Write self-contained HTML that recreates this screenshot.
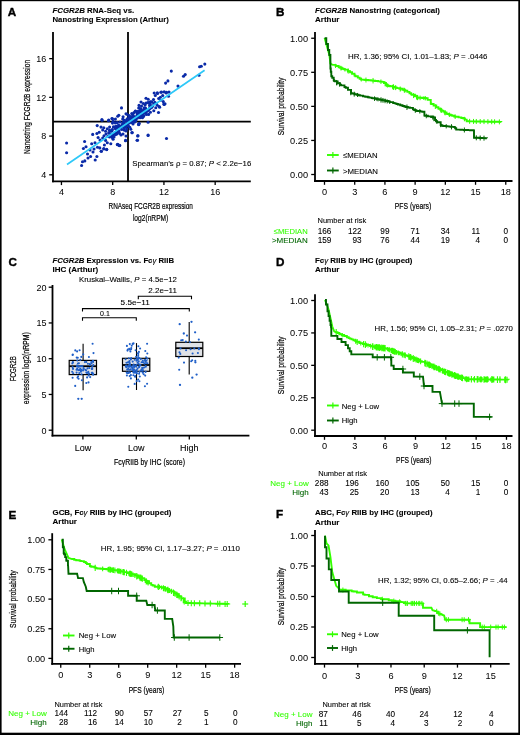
<!DOCTYPE html>
<html><head><meta charset="utf-8"><style>
html,body{margin:0;padding:0;background:#fff;}
body{width:520px;height:735px;overflow:hidden;position:relative;}
svg{position:absolute;left:0;top:0;font-family:"Liberation Sans", sans-serif;will-change:transform;}
</style></head><body>
<svg width="520" height="735" viewBox="0 0 520 735">
<g fill="#000"><rect x="0" y="0" width="520" height="1.2"/><rect x="0" y="0" width="1.6" height="735"/><rect x="518.3" y="0" width="1.7" height="735"/><rect x="0" y="732.7" width="520" height="2.3"/></g>
<text x="7.80" y="16.00" font-size="11.7" font-weight="bold" stroke="#000" stroke-width="0.4">A</text>
<text x="275.90" y="16.30" font-size="11.7" font-weight="bold" stroke="#000" stroke-width="0.4">B</text>
<text x="8.50" y="265.90" font-size="11.7" font-weight="bold" stroke="#000" stroke-width="0.4">C</text>
<text x="275.90" y="265.90" font-size="11.7" font-weight="bold" stroke="#000" stroke-width="0.4">D</text>
<text x="8.50" y="519.10" font-size="11.7" font-weight="bold" stroke="#000" stroke-width="0.4">E</text>
<text x="275.90" y="518.40" font-size="11.7" font-weight="bold" stroke="#000" stroke-width="0.4">F</text>
<text x="52.50" y="12.60" font-size="8" font-weight="bold" stroke="#000" stroke-width="0.1" textLength="81.70" lengthAdjust="spacingAndGlyphs"><tspan font-style="italic">FCGR2B</tspan> RNA-Seq vs.</text>
<text x="52.50" y="22.20" font-size="8" font-weight="bold" stroke="#000" stroke-width="0.1" textLength="116.30" lengthAdjust="spacingAndGlyphs">Nanostring Expression (Arthur)</text>
<text x="315.00" y="12.60" font-size="8" font-weight="bold" stroke="#000" stroke-width="0.1" textLength="125.00" lengthAdjust="spacingAndGlyphs"><tspan font-style="italic">FCGR2B</tspan> Nanostring (categorical)</text>
<text x="315.00" y="22.20" font-size="8" font-weight="bold" stroke="#000" stroke-width="0.1">Arthur</text>
<text x="52.50" y="262.80" font-size="8" font-weight="bold" stroke="#000" stroke-width="0.1" textLength="121.50" lengthAdjust="spacingAndGlyphs"><tspan font-style="italic">FCGR2B</tspan> Expression vs. Fc<tspan font-weight="normal" font-style="italic">γ</tspan> RIIB</text>
<text x="52.50" y="272.40" font-size="8" font-weight="bold" stroke="#000" stroke-width="0.1">IHC (Arthur)</text>
<text x="315.00" y="262.50" font-size="8" font-weight="bold" stroke="#000" stroke-width="0.1" textLength="97.50" lengthAdjust="spacingAndGlyphs">Fc<tspan font-weight="normal" font-style="italic">γ</tspan> RIIB by IHC (grouped)</text>
<text x="315.00" y="272.10" font-size="8" font-weight="bold" stroke="#000" stroke-width="0.1">Arthur</text>
<text x="52.50" y="514.50" font-size="8" font-weight="bold" stroke="#000" stroke-width="0.1" textLength="119.00" lengthAdjust="spacingAndGlyphs">GCB, Fc<tspan font-weight="normal" font-style="italic">γ</tspan> RIIB by IHC (grouped)</text>
<text x="52.50" y="524.10" font-size="8" font-weight="bold" stroke="#000" stroke-width="0.1">Arthur</text>
<text x="315.00" y="515.00" font-size="8" font-weight="bold" stroke="#000" stroke-width="0.1" textLength="117.50" lengthAdjust="spacingAndGlyphs">ABC, Fc<tspan font-weight="normal" font-style="italic">γ</tspan> RIIB by IHC (grouped)</text>
<text x="315.00" y="524.60" font-size="8" font-weight="bold" stroke="#000" stroke-width="0.1">Arthur</text>
<line x1="53.00" y1="32.00" x2="53.00" y2="182.20" stroke="#000" stroke-width="1.8" />
<line x1="52.10" y1="181.30" x2="250.80" y2="181.30" stroke="#000" stroke-width="1.8" />
<line x1="61.45" y1="181.30" x2="61.45" y2="185.10" stroke="#000" stroke-width="1.3" />
<text x="61.45" y="194.50" font-size="9.0" text-anchor="middle" stroke="#000" stroke-width="0.03">4</text>
<line x1="49.20" y1="174.80" x2="53.00" y2="174.80" stroke="#000" stroke-width="1.3" />
<text x="46.20" y="178.10" font-size="9.0" text-anchor="end" stroke="#000" stroke-width="0.03">4</text>
<line x1="112.69" y1="181.30" x2="112.69" y2="185.10" stroke="#000" stroke-width="1.3" />
<text x="112.69" y="194.50" font-size="9.0" text-anchor="middle" stroke="#000" stroke-width="0.03">8</text>
<line x1="49.20" y1="136.08" x2="53.00" y2="136.08" stroke="#000" stroke-width="1.3" />
<text x="46.20" y="139.38" font-size="9.0" text-anchor="end" stroke="#000" stroke-width="0.03">8</text>
<line x1="163.93" y1="181.30" x2="163.93" y2="185.10" stroke="#000" stroke-width="1.3" />
<text x="163.93" y="194.50" font-size="9.0" text-anchor="middle" stroke="#000" stroke-width="0.03">12</text>
<line x1="49.20" y1="97.36" x2="53.00" y2="97.36" stroke="#000" stroke-width="1.3" />
<text x="46.20" y="100.66" font-size="9.0" text-anchor="end" stroke="#000" stroke-width="0.03">12</text>
<line x1="215.17" y1="181.30" x2="215.17" y2="185.10" stroke="#000" stroke-width="1.3" />
<text x="215.17" y="194.50" font-size="9.0" text-anchor="middle" stroke="#000" stroke-width="0.03">16</text>
<line x1="49.20" y1="58.64" x2="53.00" y2="58.64" stroke="#000" stroke-width="1.3" />
<text x="46.20" y="61.94" font-size="9.0" text-anchor="end" stroke="#000" stroke-width="0.03">16</text>
<line x1="128.00" y1="32.00" x2="128.00" y2="181.30" stroke="#000" stroke-width="1.8" />
<line x1="53.00" y1="121.70" x2="250.80" y2="121.70" stroke="#000" stroke-width="1.8" />
<g fill="#0a2aa8"><circle cx="131.2" cy="121.1" r="1.55"/><circle cx="131.5" cy="117.6" r="1.55"/><circle cx="123.8" cy="123.3" r="1.55"/><circle cx="146.2" cy="110.5" r="1.55"/><circle cx="145.4" cy="110.3" r="1.55"/><circle cx="138.3" cy="114.9" r="1.55"/><circle cx="115.7" cy="133.1" r="1.55"/><circle cx="139.6" cy="115.3" r="1.55"/><circle cx="115.4" cy="122.9" r="1.55"/><circle cx="124.2" cy="122.0" r="1.55"/><circle cx="137.4" cy="114.6" r="1.55"/><circle cx="139.7" cy="110.6" r="1.55"/><circle cx="137.4" cy="116.4" r="1.55"/><circle cx="126.7" cy="129.0" r="1.55"/><circle cx="140.1" cy="117.7" r="1.55"/><circle cx="127.2" cy="118.8" r="1.55"/><circle cx="130.2" cy="119.3" r="1.55"/><circle cx="141.0" cy="113.4" r="1.55"/><circle cx="129.1" cy="116.7" r="1.55"/><circle cx="128.3" cy="125.9" r="1.55"/><circle cx="125.1" cy="124.2" r="1.55"/><circle cx="138.7" cy="108.0" r="1.55"/><circle cx="134.5" cy="122.0" r="1.55"/><circle cx="111.8" cy="131.0" r="1.55"/><circle cx="132.8" cy="114.7" r="1.55"/><circle cx="139.5" cy="113.1" r="1.55"/><circle cx="117.9" cy="131.5" r="1.55"/><circle cx="141.4" cy="115.9" r="1.55"/><circle cx="149.8" cy="107.7" r="1.55"/><circle cx="135.3" cy="111.0" r="1.55"/><circle cx="140.8" cy="110.1" r="1.55"/><circle cx="129.0" cy="115.5" r="1.55"/><circle cx="123.4" cy="122.3" r="1.55"/><circle cx="148.2" cy="99.3" r="1.55"/><circle cx="118.0" cy="129.1" r="1.55"/><circle cx="149.9" cy="108.6" r="1.55"/><circle cx="113.1" cy="121.4" r="1.55"/><circle cx="137.9" cy="111.5" r="1.55"/><circle cx="121.7" cy="129.5" r="1.55"/><circle cx="146.1" cy="109.5" r="1.55"/><circle cx="136.7" cy="117.0" r="1.55"/><circle cx="151.5" cy="107.6" r="1.55"/><circle cx="139.7" cy="115.4" r="1.55"/><circle cx="116.7" cy="134.1" r="1.55"/><circle cx="144.5" cy="112.1" r="1.55"/><circle cx="112.3" cy="129.5" r="1.55"/><circle cx="143.3" cy="103.5" r="1.55"/><circle cx="132.0" cy="122.6" r="1.55"/><circle cx="119.6" cy="133.4" r="1.55"/><circle cx="140.1" cy="112.4" r="1.55"/><circle cx="137.6" cy="117.3" r="1.55"/><circle cx="135.3" cy="120.8" r="1.55"/><circle cx="126.7" cy="120.5" r="1.55"/><circle cx="145.5" cy="109.4" r="1.55"/><circle cx="124.3" cy="127.5" r="1.55"/><circle cx="150.1" cy="104.3" r="1.55"/><circle cx="118.8" cy="127.0" r="1.55"/><circle cx="132.4" cy="117.1" r="1.55"/><circle cx="149.5" cy="102.4" r="1.55"/><circle cx="147.9" cy="102.6" r="1.55"/><circle cx="125.3" cy="125.6" r="1.55"/><circle cx="146.4" cy="112.1" r="1.55"/><circle cx="137.8" cy="115.1" r="1.55"/><circle cx="135.7" cy="118.3" r="1.55"/><circle cx="132.1" cy="119.6" r="1.55"/><circle cx="140.3" cy="112.8" r="1.55"/><circle cx="142.4" cy="113.6" r="1.55"/><circle cx="156.1" cy="103.3" r="1.55"/><circle cx="129.3" cy="118.9" r="1.55"/><circle cx="133.9" cy="120.9" r="1.55"/><circle cx="130.3" cy="121.2" r="1.55"/><circle cx="154.2" cy="93.0" r="1.55"/><circle cx="121.6" cy="126.6" r="1.55"/><circle cx="138.4" cy="115.1" r="1.55"/><circle cx="129.3" cy="123.0" r="1.55"/><circle cx="137.1" cy="112.9" r="1.55"/><circle cx="160.7" cy="100.3" r="1.55"/><circle cx="127.9" cy="120.9" r="1.55"/><circle cx="131.5" cy="118.6" r="1.55"/><circle cx="104.0" cy="135.7" r="1.55"/><circle cx="145.1" cy="104.9" r="1.55"/><circle cx="133.3" cy="121.4" r="1.55"/><circle cx="143.4" cy="116.6" r="1.55"/><circle cx="115.3" cy="128.5" r="1.55"/><circle cx="130.2" cy="122.2" r="1.55"/><circle cx="146.0" cy="98.2" r="1.55"/><circle cx="146.0" cy="103.1" r="1.55"/><circle cx="141.5" cy="106.0" r="1.55"/><circle cx="135.9" cy="120.6" r="1.55"/><circle cx="132.4" cy="119.0" r="1.55"/><circle cx="142.8" cy="111.7" r="1.55"/><circle cx="133.0" cy="123.9" r="1.55"/><circle cx="145.5" cy="108.1" r="1.55"/><circle cx="164.2" cy="91.9" r="1.55"/><circle cx="144.1" cy="109.2" r="1.55"/><circle cx="135.5" cy="119.0" r="1.55"/><circle cx="136.4" cy="118.0" r="1.55"/><circle cx="117.2" cy="122.6" r="1.55"/><circle cx="140.8" cy="108.6" r="1.55"/><circle cx="122.7" cy="119.0" r="1.55"/><circle cx="147.9" cy="110.6" r="1.55"/><circle cx="150.2" cy="102.3" r="1.55"/><circle cx="134.0" cy="112.6" r="1.55"/><circle cx="142.4" cy="117.7" r="1.55"/><circle cx="124.2" cy="130.1" r="1.55"/><circle cx="144.9" cy="109.0" r="1.55"/><circle cx="112.3" cy="137.6" r="1.55"/><circle cx="132.9" cy="115.4" r="1.55"/><circle cx="138.4" cy="115.8" r="1.55"/><circle cx="150.5" cy="101.8" r="1.55"/><circle cx="146.5" cy="114.5" r="1.55"/><circle cx="150.0" cy="105.5" r="1.55"/><circle cx="125.8" cy="126.8" r="1.55"/><circle cx="135.3" cy="116.8" r="1.55"/><circle cx="149.7" cy="105.4" r="1.55"/><circle cx="108.7" cy="132.9" r="1.55"/><circle cx="113.6" cy="134.4" r="1.55"/><circle cx="137.5" cy="112.3" r="1.55"/><circle cx="133.9" cy="120.5" r="1.55"/><circle cx="134.9" cy="121.8" r="1.55"/><circle cx="133.3" cy="121.8" r="1.55"/><circle cx="150.4" cy="112.3" r="1.55"/><circle cx="126.6" cy="125.7" r="1.55"/><circle cx="113.4" cy="126.9" r="1.55"/><circle cx="112.4" cy="136.2" r="1.55"/><circle cx="120.4" cy="126.4" r="1.55"/><circle cx="131.9" cy="118.5" r="1.55"/><circle cx="127.5" cy="122.5" r="1.55"/><circle cx="153.7" cy="103.8" r="1.55"/><circle cx="139.8" cy="117.1" r="1.55"/><circle cx="131.8" cy="113.6" r="1.55"/><circle cx="127.9" cy="125.6" r="1.55"/><circle cx="115.9" cy="127.1" r="1.55"/><circle cx="145.1" cy="112.7" r="1.55"/><circle cx="134.1" cy="120.3" r="1.55"/><circle cx="135.8" cy="111.2" r="1.55"/><circle cx="116.8" cy="126.4" r="1.55"/><circle cx="144.2" cy="107.9" r="1.55"/><circle cx="124.1" cy="120.8" r="1.55"/><circle cx="117.2" cy="128.2" r="1.55"/><circle cx="121.0" cy="127.5" r="1.55"/><circle cx="108.0" cy="136.2" r="1.55"/><circle cx="126.9" cy="114.2" r="1.55"/><circle cx="142.0" cy="110.6" r="1.55"/><circle cx="109.5" cy="130.4" r="1.55"/><circle cx="137.2" cy="113.1" r="1.55"/><circle cx="142.6" cy="114.2" r="1.55"/><circle cx="141.3" cy="113.4" r="1.55"/><circle cx="148.7" cy="109.7" r="1.55"/><circle cx="139.0" cy="105.4" r="1.55"/><circle cx="143.9" cy="115.6" r="1.55"/><circle cx="130.7" cy="117.5" r="1.55"/><circle cx="155.3" cy="95.5" r="1.55"/><circle cx="139.2" cy="123.3" r="1.55"/><circle cx="123.8" cy="126.9" r="1.55"/><circle cx="154.8" cy="102.4" r="1.55"/><circle cx="140.2" cy="116.5" r="1.55"/><circle cx="124.0" cy="123.6" r="1.55"/><circle cx="137.2" cy="118.2" r="1.55"/><circle cx="133.6" cy="116.6" r="1.55"/><circle cx="122.8" cy="123.3" r="1.55"/><circle cx="143.8" cy="110.8" r="1.55"/><circle cx="124.6" cy="120.2" r="1.55"/><circle cx="163.3" cy="101.6" r="1.55"/><circle cx="141.0" cy="102.0" r="1.55"/><circle cx="140.8" cy="114.4" r="1.55"/><circle cx="152.5" cy="106.2" r="1.55"/><circle cx="133.3" cy="119.7" r="1.55"/><circle cx="112.6" cy="135.9" r="1.55"/><circle cx="137.6" cy="111.9" r="1.55"/><circle cx="148.6" cy="114.4" r="1.55"/><circle cx="118.6" cy="125.0" r="1.55"/><circle cx="137.2" cy="115.7" r="1.55"/><circle cx="129.6" cy="116.2" r="1.55"/><circle cx="157.3" cy="105.3" r="1.55"/><circle cx="66.6" cy="143.0" r="1.55"/><circle cx="66.6" cy="152.8" r="1.55"/><circle cx="81.6" cy="165.5" r="1.55"/><circle cx="82.5" cy="161.7" r="1.55"/><circle cx="84.8" cy="160.9" r="1.55"/><circle cx="84.6" cy="141.5" r="1.55"/><circle cx="83.4" cy="148.5" r="1.55"/><circle cx="86.0" cy="146.7" r="1.55"/><circle cx="87.5" cy="154.0" r="1.55"/><circle cx="90.6" cy="156.5" r="1.55"/><circle cx="91.7" cy="143.8" r="1.55"/><circle cx="92.7" cy="134.4" r="1.55"/><circle cx="95.2" cy="160.0" r="1.55"/><circle cx="96.9" cy="156.5" r="1.55"/><circle cx="95.0" cy="142.7" r="1.55"/><circle cx="97.2" cy="125.6" r="1.55"/><circle cx="98.1" cy="137.5" r="1.55"/><circle cx="97.5" cy="147.3" r="1.55"/><circle cx="99.8" cy="147.9" r="1.55"/><circle cx="101.2" cy="151.3" r="1.55"/><circle cx="103.8" cy="149.0" r="1.55"/><circle cx="106.7" cy="149.6" r="1.55"/><circle cx="102.1" cy="120.2" r="1.55"/><circle cx="96.9" cy="133.5" r="1.55"/><circle cx="99.2" cy="132.3" r="1.55"/><circle cx="101.0" cy="127.1" r="1.55"/><circle cx="102.7" cy="130.0" r="1.55"/><circle cx="103.8" cy="127.7" r="1.55"/><circle cx="105.6" cy="131.2" r="1.55"/><circle cx="107.3" cy="128.8" r="1.55"/><circle cx="109.6" cy="127.1" r="1.55"/><circle cx="110.8" cy="131.2" r="1.55"/><circle cx="108.5" cy="120.8" r="1.55"/><circle cx="111.9" cy="118.5" r="1.55"/><circle cx="112.5" cy="123.1" r="1.55"/><circle cx="115.4" cy="126.5" r="1.55"/><circle cx="117.7" cy="116.2" r="1.55"/><circle cx="102.7" cy="138.0" r="1.55"/><circle cx="105.6" cy="140.4" r="1.55"/><circle cx="107.3" cy="142.7" r="1.55"/><circle cx="109.6" cy="136.9" r="1.55"/><circle cx="110.8" cy="143.8" r="1.55"/><circle cx="113.1" cy="139.2" r="1.55"/><circle cx="115.4" cy="134.6" r="1.55"/><circle cx="117.7" cy="144.4" r="1.55"/><circle cx="117.7" cy="132.3" r="1.55"/><circle cx="104.4" cy="145.0" r="1.55"/><circle cx="121.5" cy="107.9" r="1.55"/><circle cx="137.7" cy="135.9" r="1.55"/><circle cx="137.1" cy="140.2" r="1.55"/><circle cx="148.1" cy="135.0" r="1.55"/><circle cx="166.5" cy="138.5" r="1.55"/><circle cx="131.9" cy="132.7" r="1.55"/><circle cx="118.1" cy="144.8" r="1.55"/><circle cx="119.8" cy="145.4" r="1.55"/><circle cx="125.6" cy="140.2" r="1.55"/><circle cx="164.2" cy="104.4" r="1.55"/><circle cx="158.5" cy="112.5" r="1.55"/><circle cx="159.6" cy="107.3" r="1.55"/><circle cx="157.3" cy="92.9" r="1.55"/><circle cx="160.8" cy="92.3" r="1.55"/><circle cx="166.5" cy="92.3" r="1.55"/><circle cx="153.8" cy="110.8" r="1.55"/><circle cx="138.8" cy="124.6" r="1.55"/><circle cx="148.1" cy="122.3" r="1.55"/><circle cx="171.3" cy="71.1" r="1.55"/><circle cx="165.6" cy="83.1" r="1.55"/><circle cx="167.9" cy="80.9" r="1.55"/><circle cx="183.5" cy="76.3" r="1.55"/><circle cx="185.2" cy="74.6" r="1.55"/><circle cx="178.0" cy="86.1" r="1.55"/><circle cx="199.6" cy="66.7" r="1.55"/><circle cx="201.3" cy="66.2" r="1.55"/><circle cx="204.8" cy="64.1" r="1.55"/><circle cx="199.0" cy="75.2" r="1.55"/><circle cx="157.5" cy="93.5" r="1.55"/><circle cx="161.5" cy="92.1" r="1.55"/><circle cx="166.2" cy="92.9" r="1.55"/><circle cx="169.0" cy="92.1" r="1.55"/><circle cx="168.5" cy="96.2" r="1.55"/><circle cx="162.7" cy="95.6" r="1.55"/><circle cx="160.4" cy="97.3" r="1.55"/><circle cx="163.8" cy="104.0" r="1.55"/><circle cx="165.0" cy="103.7" r="1.55"/><circle cx="159.2" cy="106.5" r="1.55"/><circle cx="153.5" cy="99.6" r="1.55"/><circle cx="151.7" cy="101.9" r="1.55"/><circle cx="158.7" cy="98.5" r="1.55"/><circle cx="155.8" cy="107.7" r="1.55"/><circle cx="132.2" cy="132.6" r="1.55"/><circle cx="138.0" cy="135.8" r="1.55"/><circle cx="137.5" cy="140.3" r="1.55"/><circle cx="148.1" cy="135.5" r="1.55"/><circle cx="138.5" cy="124.4" r="1.55"/><circle cx="130.8" cy="129.2" r="1.55"/><circle cx="129.8" cy="127.3" r="1.55"/><circle cx="117.3" cy="144.6" r="1.55"/><circle cx="119.2" cy="145.6" r="1.55"/><circle cx="106.7" cy="149.4" r="1.55"/><circle cx="101.4" cy="151.3" r="1.55"/><circle cx="103.8" cy="148.5" r="1.55"/><circle cx="125.5" cy="140.8" r="1.55"/><circle cx="101.9" cy="119.6" r="1.55"/><circle cx="108.7" cy="120.1" r="1.55"/><circle cx="112.5" cy="118.7" r="1.55"/><circle cx="115.4" cy="119.1" r="1.55"/><circle cx="118.8" cy="115.3" r="1.55"/><circle cx="123.1" cy="116.7" r="1.55"/><circle cx="126.0" cy="113.8" r="1.55"/><circle cx="120.0" cy="122.0" r="1.55"/><circle cx="122.0" cy="125.0" r="1.55"/><circle cx="124.0" cy="128.0" r="1.55"/><circle cx="126.0" cy="131.0" r="1.55"/><circle cx="121.0" cy="135.0" r="1.55"/><circle cx="114.0" cy="137.0" r="1.55"/><circle cx="112.0" cy="130.0" r="1.55"/><circle cx="116.0" cy="129.0" r="1.55"/><circle cx="119.0" cy="131.0" r="1.55"/><circle cx="123.0" cy="134.0" r="1.55"/><circle cx="126.0" cy="136.0" r="1.55"/><circle cx="110.0" cy="134.0" r="1.55"/><circle cx="106.0" cy="134.0" r="1.55"/><circle cx="100.0" cy="140.0" r="1.55"/><circle cx="94.0" cy="149.0" r="1.55"/><circle cx="90.0" cy="150.0" r="1.55"/><circle cx="88.0" cy="158.0" r="1.55"/><circle cx="93.0" cy="152.0" r="1.55"/></g>
<line x1="67.00" y1="164.50" x2="204.60" y2="70.30" stroke="#2ec8f8" stroke-width="1.7" />
<text x="132.30" y="165.50" font-size="7.8" stroke="#000" stroke-width="0.1" textLength="119.00" lengthAdjust="spacingAndGlyphs">Spearman’s ρ = 0.87; <tspan font-style="italic">P</tspan> &lt; 2.2e−16</text>
<text x="150.75" y="209.40" font-size="9.9" text-anchor="middle" stroke="#000" stroke-width="0.22" textLength="84.30" lengthAdjust="spacingAndGlyphs">RNAseq FCGR2B expression</text>
<text x="150.60" y="221.00" font-size="9.9" text-anchor="middle" stroke="#000" stroke-width="0.22" textLength="35.40" lengthAdjust="spacingAndGlyphs">log2(nRPM)</text>
<text x="0.00" y="0.00" font-size="9.9" text-anchor="middle" stroke="#000" stroke-width="0.22" textLength="94.00" lengthAdjust="spacingAndGlyphs" transform="translate(29.7,106.9) rotate(-90)">Nanostring FCGR2B expression</text>
<line x1="315.00" y1="32.00" x2="315.00" y2="181.90" stroke="#000" stroke-width="1.8" />
<line x1="314.10" y1="181.00" x2="512.50" y2="181.00" stroke="#000" stroke-width="1.8" />
<line x1="311.20" y1="174.50" x2="315.00" y2="174.50" stroke="#000" stroke-width="1.3" />
<text x="308.00" y="177.80" font-size="9.2" text-anchor="end" stroke="#000" stroke-width="0.03">0.00</text>
<line x1="311.20" y1="140.44" x2="315.00" y2="140.44" stroke="#000" stroke-width="1.3" />
<text x="308.00" y="143.74" font-size="9.2" text-anchor="end" stroke="#000" stroke-width="0.03">0.25</text>
<line x1="311.20" y1="106.38" x2="315.00" y2="106.38" stroke="#000" stroke-width="1.3" />
<text x="308.00" y="109.67" font-size="9.2" text-anchor="end" stroke="#000" stroke-width="0.03">0.50</text>
<line x1="311.20" y1="72.31" x2="315.00" y2="72.31" stroke="#000" stroke-width="1.3" />
<text x="308.00" y="75.61" font-size="9.2" text-anchor="end" stroke="#000" stroke-width="0.03">0.75</text>
<line x1="311.20" y1="38.25" x2="315.00" y2="38.25" stroke="#000" stroke-width="1.3" />
<text x="308.00" y="41.55" font-size="9.2" text-anchor="end" stroke="#000" stroke-width="0.03">1.00</text>
<line x1="324.50" y1="181.00" x2="324.50" y2="184.80" stroke="#000" stroke-width="1.3" />
<text x="324.50" y="194.80" font-size="9.2" text-anchor="middle" stroke="#000" stroke-width="0.03">0</text>
<line x1="354.71" y1="181.00" x2="354.71" y2="184.80" stroke="#000" stroke-width="1.3" />
<text x="354.71" y="194.80" font-size="9.2" text-anchor="middle" stroke="#000" stroke-width="0.03">3</text>
<line x1="384.92" y1="181.00" x2="384.92" y2="184.80" stroke="#000" stroke-width="1.3" />
<text x="384.92" y="194.80" font-size="9.2" text-anchor="middle" stroke="#000" stroke-width="0.03">6</text>
<line x1="415.13" y1="181.00" x2="415.13" y2="184.80" stroke="#000" stroke-width="1.3" />
<text x="415.13" y="194.80" font-size="9.2" text-anchor="middle" stroke="#000" stroke-width="0.03">9</text>
<line x1="445.34" y1="181.00" x2="445.34" y2="184.80" stroke="#000" stroke-width="1.3" />
<text x="445.34" y="194.80" font-size="9.2" text-anchor="middle" stroke="#000" stroke-width="0.03">12</text>
<line x1="475.55" y1="181.00" x2="475.55" y2="184.80" stroke="#000" stroke-width="1.3" />
<text x="475.55" y="194.80" font-size="9.2" text-anchor="middle" stroke="#000" stroke-width="0.03">15</text>
<line x1="505.76" y1="181.00" x2="505.76" y2="184.80" stroke="#000" stroke-width="1.3" />
<text x="505.76" y="194.80" font-size="9.2" text-anchor="middle" stroke="#000" stroke-width="0.03">18</text>
<text x="0.00" y="0.00" font-size="9.9" text-anchor="middle" stroke="#000" stroke-width="0.22" textLength="57.70" lengthAdjust="spacingAndGlyphs" transform="translate(283.6,106.38) rotate(-90)">Survival probability</text>
<text x="413.00" y="208.50" font-size="9.9" text-anchor="middle" stroke="#000" stroke-width="0.22" textLength="36.40" lengthAdjust="spacingAndGlyphs">PFS (years)</text>
<text x="348.00" y="58.75" font-size="8" stroke="#000" stroke-width="0.1" textLength="139.50" lengthAdjust="spacingAndGlyphs">HR, 1.36; 95% CI, 1.01–1.83; <tspan font-style="italic">P</tspan> = .0446</text>
<polyline points="324.60,38.10 329.40,55.00 330.40,63.70 332.30,64.60 333.00,64.88 335.66,64.88 335.66,65.96 338.70,65.96 338.70,67.20 340.10,67.20 340.10,67.77 341.90,67.77 341.90,68.50 343.26,68.50 343.26,69.06 344.62,69.06 344.62,69.62 347.80,69.62 347.80,70.93 348.70,70.93 348.70,71.30 350.05,71.30 350.05,72.28 352.03,72.28 352.03,73.73 354.50,73.73 354.50,75.54 355.40,75.54 355.40,76.20 357.83,76.20 357.83,77.62 359.65,77.62 359.65,78.69 361.14,78.69 361.14,79.57 361.20,79.57 361.20,79.60 363.56,79.60 363.56,79.80 365.30,79.80 365.30,79.94 366.75,79.94 366.75,80.06 368.33,80.06 368.33,80.19 369.64,80.19 369.64,80.30 370.80,80.30 370.80,80.40 371.31,80.40 371.31,80.47 373.22,80.47 373.22,80.72 375.12,80.72 375.12,80.96 378.07,80.96 378.07,81.35 379.94,81.35 379.94,81.59 382.29,81.59 382.29,81.90 382.30,81.90 382.30,81.90 383.90,81.90 383.90,82.99 385.90,82.99 385.90,84.36 387.14,84.36 387.14,85.21 388.00,85.21 388.00,85.80 388.91,85.80 388.91,86.02 390.15,86.02 390.15,86.32 393.04,86.32 393.04,87.03 395.50,87.03 395.50,87.63 395.80,87.63 395.80,87.70 397.14,87.70 397.14,88.10 399.43,88.10 399.43,88.80 402.78,88.80 402.78,89.81 404.23,89.81 404.23,90.25 405.40,90.25 405.40,90.60 407.31,90.60 407.31,91.85 409.50,91.85 409.50,93.29 411.20,93.29 411.20,94.40 411.84,94.40 411.84,94.73 414.96,94.73 414.96,96.31 417.06,96.31 417.06,97.38 417.70,97.38 417.70,97.70 419.43,97.70 419.43,97.82 422.21,97.82 422.21,98.01 425.67,98.01 425.67,98.26 426.30,98.26 426.30,98.30 427.66,98.30 427.66,99.88 430.77,99.88 430.77,103.50 431.20,103.50 431.20,104.00 433.60,104.00 433.60,105.52 436.26,105.52 436.26,107.20 438.39,107.20 438.39,108.54 438.80,108.54 438.80,108.80 440.39,108.80 440.39,109.81 441.72,109.81 441.72,110.66 443.22,110.66 443.22,111.61 444.58,111.61 444.58,112.48 446.50,112.48 446.50,113.70 447.48,113.70 447.48,114.06 449.27,114.06 449.27,114.71 450.85,114.71 450.85,115.28 452.24,115.28 452.24,115.79 454.20,115.79 454.20,116.50 455.38,116.50 455.38,116.74 458.58,116.74 458.58,117.41 461.32,117.41 461.32,117.98 463.17,117.98 463.17,118.37 463.80,118.37 463.80,118.50 464.93,118.50 464.93,119.59 466.70,119.59 466.70,121.30 466.80,121.30 466.80,121.30 469.06,121.30 469.06,121.34 470.62,121.34 470.62,121.37 472.84,121.37 472.84,121.41 474.65,121.41 474.65,121.44 478.06,121.44 478.06,121.50 481.50,121.50 481.50,121.56 483.96,121.56 483.96,121.60 485.72,121.60 485.72,121.63 489.14,121.63 489.14,121.69 491.05,121.69 491.05,121.72 493.07,121.72 493.07,121.76 494.27,121.76 494.27,121.78 496.35,121.78 496.35,121.81 498.64,121.81 498.64,121.85 501.00,121.85 501.00,121.89 501.30,121.89 501.30,121.90" fill="none" stroke="#33FF00" stroke-width="1.9" stroke-linejoin="miter"/>
<path d="M347.62 69.10V72.61M341.60 66.54V70.22M344.99 67.98V71.56M335.56 63.87V67.98M340.82 65.73V70.40M348.23 68.61V73.61M386.30 82.17V87.10M395.16 85.41V89.68M373.05 77.96V83.43M365.98 77.52V82.47M385.73 82.45V86.04M393.41 84.48V89.76M385.09 81.33V86.30M392.49 85.00V88.78M380.95 79.47V83.98M393.40 84.56V89.67M393.06 84.70V89.37M395.71 85.25V90.11M387.73 83.64V87.60M361.25 77.72V81.49M423.81 96.27V99.98M455.16 114.39V119.01M441.43 108.10V112.85M444.92 110.46V114.94M400.22 86.49V91.58M449.39 112.50V117.00M435.32 104.19V109.01M404.36 87.80V92.77M416.64 95.34V98.99M417.53 95.13V100.09M413.54 93.10V98.08M464.40 116.83V121.32M425.25 96.00V100.46M445.12 110.31V115.34M440.72 107.63V112.41M405.11 88.62V92.41M416.76 94.73V99.72M420.09 95.55V100.18M400.82 87.41V91.03M417.74 95.28V100.12" stroke="#33FF00" stroke-width="1.0" fill="none"/>
<path d="M469.60 118.85V123.85M467.60 121.35H471.60M473.50 118.92V123.92M471.50 121.42H475.50M476.30 118.97V123.97M474.30 121.47H478.30M480.20 119.03V124.03M478.20 121.53H482.20M484.00 119.10V124.10M482.00 121.60H486.00M487.90 119.17V124.17M485.90 121.67H489.90M491.70 119.23V124.23M489.70 121.73H493.70M494.60 119.28V124.28M492.60 121.78H496.60M499.40 119.37V124.37M497.40 121.87H501.40" stroke="#33FF00" stroke-width="1.0" fill="none"/>
<polyline points="324.60,38.10 326.29,38.10 326.29,44.06 327.97,44.06 327.97,49.96 329.26,49.96 329.26,54.50 329.40,54.50 329.40,55.00 330.40,55.00 330.40,68.50 330.77,68.50 330.77,71.71 331.30,71.71 331.30,76.20 332.24,76.20 332.24,77.76 333.71,77.76 333.71,80.18 334.20,80.18 334.20,81.00 334.82,81.00 334.82,81.41 336.00,81.41 337.66,81.41 337.66,83.27 340.00,83.27 340.00,84.80 341.11,84.80 341.11,85.35 344.46,85.35 344.46,87.03 345.70,87.03 345.70,87.65 345.80,87.65 345.80,87.70 347.96,87.70 347.96,89.89 351.04,89.89 351.04,93.03 351.50,93.03 351.50,93.50 354.47,93.50 354.47,94.22 356.70,94.22 356.70,94.77 358.52,94.77 358.52,95.21 360.20,95.21 360.20,95.62 363.00,95.62 363.00,96.30 363.58,96.30 363.58,96.42 365.26,96.42 365.26,96.77 367.80,96.77 367.80,97.29 369.33,97.29 369.33,97.60 371.73,97.60 371.73,98.10 372.70,98.10 372.70,98.30 375.12,98.30 375.12,98.78 376.63,98.78 376.63,99.08 379.71,99.08 379.71,99.69 382.08,99.69 382.08,100.16 382.30,100.16 382.30,100.20 385.32,100.20 385.32,100.96 388.14,100.96 388.14,101.67 389.88,101.67 389.88,102.11 393.14,102.11 393.14,102.93 393.80,102.93 393.80,103.10 395.46,103.10 395.46,103.64 396.71,103.64 396.71,104.05 397.92,104.05 397.92,104.45 400.25,104.45 400.25,105.21 402.49,105.21 402.49,105.95 404.38,105.95 404.38,106.57 405.40,106.57 405.40,106.90 405.91,106.90 405.91,107.01 407.90,107.01 407.90,107.44 409.83,107.44 409.83,107.86 410.00,107.86 410.00,107.90 412.96,107.90 412.96,109.38 414.16,109.38 414.16,109.98 415.80,109.98 415.80,110.80 417.09,110.80 417.09,110.97 420.22,110.97 420.22,111.39 421.70,111.39 421.70,111.59 422.50,111.59 422.50,111.70 424.40,111.70 424.40,115.60 425.03,115.60 425.03,115.74 427.87,115.74 427.87,116.36 431.14,116.36 431.14,117.07 433.01,117.07 433.01,117.48 433.10,117.48 433.10,117.50 435.06,117.50 435.06,120.07 436.00,120.07 436.00,121.30 437.17,121.30 437.17,122.22 440.66,122.22 440.66,124.98 441.70,124.98 441.70,125.80 443.22,125.80 443.22,125.96 445.25,125.96 445.25,126.17 447.43,126.17 447.43,126.40 449.27,126.40 449.27,126.59 450.58,126.59 450.58,126.72 452.01,126.72 452.01,126.87 454.20,126.87 454.20,127.10 455.13,127.10 455.13,128.26 456.20,128.26 456.20,129.60 456.99,129.60 456.99,129.64 460.34,129.64 460.34,129.79 462.11,129.79 462.11,129.87 463.92,129.87 463.92,129.96 466.30,129.96 466.30,130.07 467.94,130.07 467.94,130.14 470.00,130.14 470.00,130.24 473.39,130.24 473.39,130.40 473.50,130.40 473.50,130.40 474.00,130.40 474.00,137.70 476.63,137.70 476.63,137.82 479.69,137.82 479.69,137.96 482.35,137.96 482.35,138.09 485.65,138.09 485.65,138.24 486.90,138.24 486.90,138.30" fill="none" stroke="#006600" stroke-width="1.9" stroke-linejoin="miter"/>
<path d="M354.22 91.69V96.63M336.73 80.18V85.14M350.78 90.26V95.27M357.56 92.94V97.01M336.71 79.97V85.32M339.46 82.22V86.67M387.18 99.38V103.48M406.95 104.51V109.96M383.01 97.97V102.78M385.04 98.58V103.20M389.72 100.15V103.99M378.08 97.41V101.32M415.30 108.30V112.80M381.00 97.29V102.60M419.82 109.14V113.54M376.98 97.20V101.09M374.54 96.57V100.76M374.55 96.68V100.66M432.92 115.14V119.78M464.36 127.48V132.48M440.64 122.80V127.13M446.21 124.14V128.40M436.91 120.21V123.83M433.88 115.80V121.23M426.29 113.76V118.27M451.48 124.20V129.43" stroke="#006600" stroke-width="1.0" fill="none"/>
<path d="M476.30 135.31V140.31M474.30 137.81H478.30M480.20 135.49V140.49M478.20 137.99H482.20M484.00 135.67V140.67M482.00 138.17H486.00" stroke="#006600" stroke-width="1.0" fill="none"/>
<line x1="327.00" y1="155.00" x2="338.75" y2="155.00" stroke="#33FF00" stroke-width="1.9" />
<line x1="332.88" y1="152.10" x2="332.88" y2="157.90" stroke="#33FF00" stroke-width="1.2" />
<line x1="327.00" y1="170.50" x2="338.75" y2="170.50" stroke="#006600" stroke-width="1.9" />
<line x1="332.88" y1="167.60" x2="332.88" y2="173.40" stroke="#006600" stroke-width="1.2" />
<text x="343.00" y="158.00" font-size="7.9" stroke="#000" stroke-width="0.1" textLength="34.50" lengthAdjust="spacingAndGlyphs">≤MEDIAN</text>
<text x="343.00" y="173.50" font-size="7.9" stroke="#000" stroke-width="0.1" textLength="35.00" lengthAdjust="spacingAndGlyphs">&gt;MEDIAN</text>
<text x="317.50" y="223.20" font-size="7.6" stroke="#000" stroke-width="0.1" textLength="48.75" lengthAdjust="spacingAndGlyphs">Number at risk</text>
<text x="307.70" y="233.60" font-size="8.0" text-anchor="end" fill="#33FF00" stroke="#33FF00" stroke-width="0.1" textLength="33.90" lengthAdjust="spacingAndGlyphs">≤MEDIAN</text>
<text x="307.70" y="243.20" font-size="8.0" text-anchor="end" fill="#006600" stroke="#006600" stroke-width="0.1">&gt;MEDIAN</text>
<text x="331.34" y="233.60" font-size="8.2" text-anchor="end" stroke="#000" stroke-width="0.1">166</text>
<text x="331.34" y="243.20" font-size="8.2" text-anchor="end" stroke="#000" stroke-width="0.1">159</text>
<text x="361.55" y="233.60" font-size="8.2" text-anchor="end" stroke="#000" stroke-width="0.1">122</text>
<text x="361.55" y="243.20" font-size="8.2" text-anchor="end" stroke="#000" stroke-width="0.1">93</text>
<text x="389.48" y="233.60" font-size="8.2" text-anchor="end" stroke="#000" stroke-width="0.1">99</text>
<text x="389.48" y="243.20" font-size="8.2" text-anchor="end" stroke="#000" stroke-width="0.1">76</text>
<text x="419.69" y="233.60" font-size="8.2" text-anchor="end" stroke="#000" stroke-width="0.1">71</text>
<text x="419.69" y="243.20" font-size="8.2" text-anchor="end" stroke="#000" stroke-width="0.1">44</text>
<text x="449.90" y="233.60" font-size="8.2" text-anchor="end" stroke="#000" stroke-width="0.1">34</text>
<text x="449.90" y="243.20" font-size="8.2" text-anchor="end" stroke="#000" stroke-width="0.1">19</text>
<text x="480.11" y="233.60" font-size="8.2" text-anchor="end" stroke="#000" stroke-width="0.1">11</text>
<text x="480.11" y="243.20" font-size="8.2" text-anchor="end" stroke="#000" stroke-width="0.1">4</text>
<text x="508.04" y="233.60" font-size="8.2" text-anchor="end" stroke="#000" stroke-width="0.1">0</text>
<text x="508.04" y="243.20" font-size="8.2" text-anchor="end" stroke="#000" stroke-width="0.1">0</text>
<line x1="52.50" y1="285.00" x2="52.50" y2="436.50" stroke="#000" stroke-width="1.8" />
<line x1="51.60" y1="435.60" x2="249.40" y2="435.60" stroke="#000" stroke-width="1.8" />
<line x1="48.70" y1="430.20" x2="52.50" y2="430.20" stroke="#000" stroke-width="1.3" />
<text x="46.40" y="433.50" font-size="9.0" text-anchor="end" stroke="#000" stroke-width="0.03">0</text>
<line x1="48.70" y1="394.45" x2="52.50" y2="394.45" stroke="#000" stroke-width="1.3" />
<text x="46.40" y="397.75" font-size="9.0" text-anchor="end" stroke="#000" stroke-width="0.03">5</text>
<line x1="48.70" y1="358.70" x2="52.50" y2="358.70" stroke="#000" stroke-width="1.3" />
<text x="46.40" y="362.00" font-size="9.0" text-anchor="end" stroke="#000" stroke-width="0.03">10</text>
<line x1="48.70" y1="322.95" x2="52.50" y2="322.95" stroke="#000" stroke-width="1.3" />
<text x="46.40" y="326.25" font-size="9.0" text-anchor="end" stroke="#000" stroke-width="0.03">15</text>
<line x1="48.70" y1="287.20" x2="52.50" y2="287.20" stroke="#000" stroke-width="1.3" />
<text x="46.40" y="290.50" font-size="9.0" text-anchor="end" stroke="#000" stroke-width="0.03">20</text>
<line x1="82.90" y1="435.60" x2="82.90" y2="439.40" stroke="#000" stroke-width="1.3" />
<text x="82.90" y="451.00" font-size="9.0" text-anchor="middle" stroke="#000" stroke-width="0.1">Low</text>
<line x1="136.30" y1="435.60" x2="136.30" y2="439.40" stroke="#000" stroke-width="1.3" />
<text x="136.30" y="451.00" font-size="9.0" text-anchor="middle" stroke="#000" stroke-width="0.1">Low</text>
<line x1="189.30" y1="435.60" x2="189.30" y2="439.40" stroke="#000" stroke-width="1.3" />
<text x="189.30" y="451.00" font-size="9.0" text-anchor="middle" stroke="#000" stroke-width="0.1">High</text>
<text x="149.50" y="464.60" font-size="9.9" text-anchor="middle" stroke="#000" stroke-width="0.22" textLength="70.90" lengthAdjust="spacingAndGlyphs">FcγRIIB by IHC (score)</text>
<text x="0.00" y="0.00" font-size="9.9" text-anchor="middle" stroke="#000" stroke-width="0.22" textLength="25.00" lengthAdjust="spacingAndGlyphs" transform="translate(15.7,368.7) rotate(-90)">FCGR2B</text>
<text x="0.00" y="0.00" font-size="9.9" text-anchor="middle" stroke="#000" stroke-width="0.22" textLength="72.00" lengthAdjust="spacingAndGlyphs" transform="translate(29.3,368.2) rotate(-90)">expression log2(nRPM)</text>
<text x="79.00" y="281.50" font-size="7.8" stroke="#000" stroke-width="0.1" textLength="98.00" lengthAdjust="spacingAndGlyphs">Kruskal–Wallis, <tspan font-style="italic">P</tspan> = 4.5e−12</text>
<polyline points="138.3,299.3 138.3,296.3 191.5,296.3 191.5,299.3" fill="none" stroke="#000" stroke-width="1.1"/>
<text x="148.30" y="292.90" font-size="7.8" stroke="#000" stroke-width="0.1" textLength="28.60" lengthAdjust="spacingAndGlyphs">2.2e−11</text>
<polyline points="82.5,311.6 82.5,308.6 189.3,308.6 189.3,311.6" fill="none" stroke="#000" stroke-width="1.1"/>
<text x="120.60" y="305.20" font-size="7.8" stroke="#000" stroke-width="0.1" textLength="29.20" lengthAdjust="spacingAndGlyphs">5.5e−11</text>
<polyline points="82.5,320.8 82.5,317.8 136.3,317.8 136.3,320.8" fill="none" stroke="#000" stroke-width="1.1"/>
<text x="100.00" y="316.20" font-size="7.8" stroke="#000" stroke-width="0.1" textLength="9.80" lengthAdjust="spacingAndGlyphs">0.1</text>
<line x1="83.10" y1="343.80" x2="83.10" y2="390.20" stroke="#000" stroke-width="1.1" />
<rect x="69.2" y="360.4" width="27.299999999999997" height="14.200000000000045" fill="#e0e2e6" stroke="#000" stroke-width="1.2"/>
<line x1="69.20" y1="366.20" x2="96.50" y2="366.20" stroke="#000" stroke-width="1.8" />
<g fill="#1f5fc8"><circle cx="76.9" cy="365.5" r="1.05"/><circle cx="80.9" cy="371.8" r="1.05"/><circle cx="81.9" cy="380.2" r="1.05"/><circle cx="91.3" cy="362.0" r="1.05"/><circle cx="72.6" cy="377.8" r="1.05"/><circle cx="91.8" cy="368.6" r="1.05"/><circle cx="82.5" cy="366.1" r="1.05"/><circle cx="80.7" cy="366.1" r="1.05"/><circle cx="92.5" cy="372.9" r="1.05"/><circle cx="93.5" cy="353.1" r="1.05"/><circle cx="77.6" cy="369.6" r="1.05"/><circle cx="83.6" cy="368.9" r="1.05"/><circle cx="87.1" cy="377.4" r="1.05"/><circle cx="86.3" cy="361.9" r="1.05"/><circle cx="88.9" cy="357.0" r="1.05"/><circle cx="73.0" cy="368.7" r="1.05"/><circle cx="89.3" cy="368.0" r="1.05"/><circle cx="86.3" cy="383.0" r="1.05"/><circle cx="78.8" cy="370.2" r="1.05"/><circle cx="86.1" cy="370.3" r="1.05"/><circle cx="87.5" cy="368.4" r="1.05"/><circle cx="83.6" cy="368.1" r="1.05"/><circle cx="84.9" cy="362.1" r="1.05"/><circle cx="85.3" cy="369.7" r="1.05"/><circle cx="72.3" cy="363.5" r="1.05"/><circle cx="93.2" cy="374.1" r="1.05"/><circle cx="86.3" cy="372.5" r="1.05"/><circle cx="77.3" cy="360.5" r="1.05"/><circle cx="77.5" cy="377.6" r="1.05"/><circle cx="78.9" cy="363.3" r="1.05"/><circle cx="72.6" cy="355.0" r="1.05"/><circle cx="81.3" cy="366.3" r="1.05"/><circle cx="77.8" cy="357.7" r="1.05"/><circle cx="77.1" cy="351.4" r="1.05"/><circle cx="72.9" cy="362.1" r="1.05"/><circle cx="87.1" cy="372.9" r="1.05"/><circle cx="76.5" cy="369.8" r="1.05"/><circle cx="83.2" cy="354.4" r="1.05"/><circle cx="76.6" cy="372.6" r="1.05"/><circle cx="90.1" cy="365.0" r="1.05"/><circle cx="77.2" cy="368.5" r="1.05"/><circle cx="78.6" cy="378.7" r="1.05"/><circle cx="93.0" cy="361.4" r="1.05"/><circle cx="77.0" cy="366.3" r="1.05"/><circle cx="81.3" cy="356.9" r="1.05"/><circle cx="75.3" cy="350.4" r="1.05"/><circle cx="80.8" cy="370.9" r="1.05"/><circle cx="75.2" cy="385.9" r="1.05"/><circle cx="73.2" cy="373.2" r="1.05"/><circle cx="91.9" cy="369.0" r="1.05"/><circle cx="91.5" cy="363.4" r="1.05"/><circle cx="92.6" cy="343.8" r="1.05"/><circle cx="79.3" cy="373.1" r="1.05"/><circle cx="88.5" cy="382.4" r="1.05"/><circle cx="72.8" cy="362.5" r="1.05"/><circle cx="80.3" cy="359.9" r="1.05"/><circle cx="79.4" cy="366.5" r="1.05"/><circle cx="78.3" cy="366.7" r="1.05"/><circle cx="79.8" cy="369.9" r="1.05"/><circle cx="93.3" cy="365.1" r="1.05"/><circle cx="76.7" cy="357.6" r="1.05"/><circle cx="90.2" cy="377.1" r="1.05"/><circle cx="81.6" cy="374.3" r="1.05"/><circle cx="80.3" cy="368.8" r="1.05"/><circle cx="92.3" cy="368.7" r="1.05"/><circle cx="91.8" cy="372.9" r="1.05"/><circle cx="72.8" cy="354.6" r="1.05"/><circle cx="89.0" cy="373.5" r="1.05"/><circle cx="73.0" cy="368.8" r="1.05"/><circle cx="92.3" cy="366.8" r="1.05"/><circle cx="77.8" cy="365.9" r="1.05"/><circle cx="79.6" cy="350.2" r="1.05"/><circle cx="78.1" cy="376.2" r="1.05"/><circle cx="77.9" cy="363.5" r="1.05"/><circle cx="87.9" cy="363.8" r="1.05"/><circle cx="72.2" cy="371.7" r="1.05"/><circle cx="88.7" cy="375.4" r="1.05"/><circle cx="92.9" cy="360.9" r="1.05"/><circle cx="72.6" cy="367.1" r="1.05"/><circle cx="93.1" cy="374.7" r="1.05"/><circle cx="93.1" cy="361.9" r="1.05"/><circle cx="81.6" cy="369.9" r="1.05"/><circle cx="83.0" cy="370.5" r="1.05"/><circle cx="89.8" cy="364.1" r="1.05"/><circle cx="88.3" cy="371.9" r="1.05"/><circle cx="78.3" cy="398.8" r="1.15"/><circle cx="81.7" cy="398.8" r="1.15"/></g>
<line x1="136.50" y1="343.10" x2="136.50" y2="390.00" stroke="#000" stroke-width="1.1" />
<rect x="122.5" y="358.3" width="27.30000000000001" height="13.0" fill="#e0e2e6" stroke="#000" stroke-width="1.2"/>
<line x1="122.50" y1="365.00" x2="149.80" y2="365.00" stroke="#000" stroke-width="1.8" />
<g fill="#1f5fc8"><circle cx="138.9" cy="351.9" r="1.05"/><circle cx="132.7" cy="361.6" r="1.05"/><circle cx="142.7" cy="372.3" r="1.05"/><circle cx="127.2" cy="369.6" r="1.05"/><circle cx="130.9" cy="378.4" r="1.05"/><circle cx="126.9" cy="375.5" r="1.05"/><circle cx="132.7" cy="367.3" r="1.05"/><circle cx="147.1" cy="383.8" r="1.05"/><circle cx="131.3" cy="348.1" r="1.05"/><circle cx="127.3" cy="373.2" r="1.05"/><circle cx="141.1" cy="370.7" r="1.05"/><circle cx="135.3" cy="365.9" r="1.05"/><circle cx="139.1" cy="373.8" r="1.05"/><circle cx="140.3" cy="364.8" r="1.05"/><circle cx="140.1" cy="348.5" r="1.05"/><circle cx="128.2" cy="368.8" r="1.05"/><circle cx="138.0" cy="359.0" r="1.05"/><circle cx="133.7" cy="364.6" r="1.05"/><circle cx="130.9" cy="359.4" r="1.05"/><circle cx="130.9" cy="375.1" r="1.05"/><circle cx="138.2" cy="379.5" r="1.05"/><circle cx="132.7" cy="343.9" r="1.05"/><circle cx="136.7" cy="381.1" r="1.05"/><circle cx="130.6" cy="369.4" r="1.05"/><circle cx="147.3" cy="353.5" r="1.05"/><circle cx="127.8" cy="349.5" r="1.05"/><circle cx="144.0" cy="367.5" r="1.05"/><circle cx="145.6" cy="371.9" r="1.05"/><circle cx="128.1" cy="366.8" r="1.05"/><circle cx="129.7" cy="376.1" r="1.05"/><circle cx="146.0" cy="363.1" r="1.05"/><circle cx="133.7" cy="371.2" r="1.05"/><circle cx="131.2" cy="358.1" r="1.05"/><circle cx="142.6" cy="368.8" r="1.05"/><circle cx="138.6" cy="363.7" r="1.05"/><circle cx="139.1" cy="366.6" r="1.05"/><circle cx="128.6" cy="373.0" r="1.05"/><circle cx="130.0" cy="364.6" r="1.05"/><circle cx="139.8" cy="376.5" r="1.05"/><circle cx="130.0" cy="372.5" r="1.05"/><circle cx="140.4" cy="365.5" r="1.05"/><circle cx="129.6" cy="362.8" r="1.05"/><circle cx="143.0" cy="370.3" r="1.05"/><circle cx="137.6" cy="368.6" r="1.05"/><circle cx="134.2" cy="366.5" r="1.05"/><circle cx="137.6" cy="362.6" r="1.05"/><circle cx="129.1" cy="362.1" r="1.05"/><circle cx="140.8" cy="359.1" r="1.05"/><circle cx="132.3" cy="368.7" r="1.05"/><circle cx="146.5" cy="360.8" r="1.05"/><circle cx="133.4" cy="375.2" r="1.05"/><circle cx="134.7" cy="383.9" r="1.05"/><circle cx="133.5" cy="343.4" r="1.05"/><circle cx="129.8" cy="364.2" r="1.05"/><circle cx="125.6" cy="359.3" r="1.05"/><circle cx="145.3" cy="351.0" r="1.05"/><circle cx="134.4" cy="372.3" r="1.05"/><circle cx="144.9" cy="360.1" r="1.05"/><circle cx="125.8" cy="366.2" r="1.05"/><circle cx="137.6" cy="353.2" r="1.05"/><circle cx="127.5" cy="350.6" r="1.05"/><circle cx="139.2" cy="358.1" r="1.05"/><circle cx="128.7" cy="372.3" r="1.05"/><circle cx="131.7" cy="345.8" r="1.05"/><circle cx="127.9" cy="362.4" r="1.05"/><circle cx="136.3" cy="372.5" r="1.05"/><circle cx="129.8" cy="344.1" r="1.05"/><circle cx="128.3" cy="386.7" r="1.05"/><circle cx="136.1" cy="356.9" r="1.05"/><circle cx="126.7" cy="372.5" r="1.05"/><circle cx="145.4" cy="361.2" r="1.05"/><circle cx="139.1" cy="367.3" r="1.05"/><circle cx="142.8" cy="360.5" r="1.05"/><circle cx="130.4" cy="351.4" r="1.05"/><circle cx="143.7" cy="374.3" r="1.05"/><circle cx="129.5" cy="366.7" r="1.05"/><circle cx="136.9" cy="373.4" r="1.05"/><circle cx="133.9" cy="369.6" r="1.05"/><circle cx="141.4" cy="369.5" r="1.05"/><circle cx="145.2" cy="375.6" r="1.05"/><circle cx="142.2" cy="367.8" r="1.05"/><circle cx="126.3" cy="367.2" r="1.05"/><circle cx="138.7" cy="361.4" r="1.05"/><circle cx="137.6" cy="359.9" r="1.05"/><circle cx="134.7" cy="359.8" r="1.05"/><circle cx="138.3" cy="353.9" r="1.05"/><circle cx="135.3" cy="370.6" r="1.05"/><circle cx="135.1" cy="376.7" r="1.05"/><circle cx="136.3" cy="366.7" r="1.05"/><circle cx="130.7" cy="366.3" r="1.05"/><circle cx="135.6" cy="350.3" r="1.05"/><circle cx="129.5" cy="361.0" r="1.05"/><circle cx="128.3" cy="365.7" r="1.05"/><circle cx="135.0" cy="372.7" r="1.05"/><circle cx="136.7" cy="370.0" r="1.05"/><circle cx="126.4" cy="362.7" r="1.05"/><circle cx="141.6" cy="362.3" r="1.05"/><circle cx="142.6" cy="362.2" r="1.05"/><circle cx="136.6" cy="364.8" r="1.05"/><circle cx="133.8" cy="369.4" r="1.05"/><circle cx="144.4" cy="363.6" r="1.05"/><circle cx="147.4" cy="363.2" r="1.05"/><circle cx="129.8" cy="349.5" r="1.05"/><circle cx="147.1" cy="343.7" r="1.05"/><circle cx="145.7" cy="366.1" r="1.05"/><circle cx="129.1" cy="369.7" r="1.05"/><circle cx="126.9" cy="345.9" r="1.05"/><circle cx="133.2" cy="365.2" r="1.05"/><circle cx="145.2" cy="360.0" r="1.05"/><circle cx="131.5" cy="366.9" r="1.05"/><circle cx="136.5" cy="360.7" r="1.05"/><circle cx="145.7" cy="366.7" r="1.05"/><circle cx="136.6" cy="371.4" r="1.05"/><circle cx="132.5" cy="370.2" r="1.05"/><circle cx="129.0" cy="366.2" r="1.05"/><circle cx="146.1" cy="357.3" r="1.05"/><circle cx="129.2" cy="348.7" r="1.05"/><circle cx="142.8" cy="372.8" r="1.05"/><circle cx="139.5" cy="371.9" r="1.05"/><circle cx="133.4" cy="372.6" r="1.05"/><circle cx="138.3" cy="357.3" r="1.05"/><circle cx="144.9" cy="386.2" r="1.05"/><circle cx="139.4" cy="381.3" r="1.05"/><circle cx="134.2" cy="367.0" r="1.05"/><circle cx="147.3" cy="358.6" r="1.05"/><circle cx="138.2" cy="355.8" r="1.05"/><circle cx="135.2" cy="376.1" r="1.05"/><circle cx="129.4" cy="364.9" r="1.05"/><circle cx="143.5" cy="362.3" r="1.05"/><circle cx="131.1" cy="349.3" r="1.05"/><circle cx="138.4" cy="346.2" r="1.05"/><circle cx="140.1" cy="364.8" r="1.05"/><circle cx="126.2" cy="365.5" r="1.05"/><circle cx="128.8" cy="358.3" r="1.05"/><circle cx="136.8" cy="359.0" r="1.05"/></g>
<line x1="189.20" y1="322.00" x2="189.20" y2="374.60" stroke="#000" stroke-width="1.1" />
<rect x="175.8" y="342.3" width="27.0" height="14.199999999999989" fill="#e0e2e6" stroke="#000" stroke-width="1.2"/>
<line x1="175.80" y1="348.20" x2="202.80" y2="348.20" stroke="#000" stroke-width="1.8" />
<g fill="#1f5fc8"><circle cx="197.9" cy="353.0" r="1.05"/><circle cx="192.6" cy="353.5" r="1.05"/><circle cx="178.7" cy="357.6" r="1.05"/><circle cx="180.5" cy="348.4" r="1.05"/><circle cx="186.1" cy="350.3" r="1.05"/><circle cx="191.2" cy="361.3" r="1.05"/><circle cx="182.7" cy="340.1" r="1.05"/><circle cx="181.2" cy="340.2" r="1.05"/><circle cx="198.8" cy="348.4" r="1.05"/><circle cx="180.3" cy="353.9" r="1.05"/><circle cx="192.2" cy="360.3" r="1.05"/><circle cx="187.0" cy="335.6" r="1.05"/><circle cx="184.0" cy="362.6" r="1.05"/><circle cx="190.6" cy="349.2" r="1.05"/><circle cx="185.9" cy="341.6" r="1.05"/><circle cx="198.8" cy="339.6" r="1.05"/><circle cx="194.3" cy="348.4" r="1.05"/><circle cx="179.2" cy="369.8" r="1.05"/><circle cx="189.9" cy="342.1" r="1.05"/><circle cx="179.5" cy="352.3" r="1.05"/><circle cx="195.3" cy="360.8" r="1.05"/><circle cx="198.9" cy="349.2" r="1.05"/><circle cx="179.7" cy="324.2" r="1.15"/><circle cx="191.5" cy="321.8" r="1.15"/><circle cx="183.8" cy="333.5" r="1.15"/><circle cx="195.1" cy="332.3" r="1.15"/><circle cx="196.6" cy="374.6" r="1.15"/><circle cx="192.3" cy="377.7" r="1.15"/><circle cx="180.0" cy="384.9" r="1.15"/><circle cx="195.4" cy="362.3" r="1.15"/></g>
<line x1="315.00" y1="294.30" x2="315.00" y2="436.90" stroke="#000" stroke-width="1.8" />
<line x1="314.10" y1="436.00" x2="512.50" y2="436.00" stroke="#000" stroke-width="1.8" />
<line x1="311.20" y1="430.20" x2="315.00" y2="430.20" stroke="#000" stroke-width="1.3" />
<text x="308.00" y="433.50" font-size="9.2" text-anchor="end" stroke="#000" stroke-width="0.03">0.00</text>
<line x1="311.20" y1="397.77" x2="315.00" y2="397.77" stroke="#000" stroke-width="1.3" />
<text x="308.00" y="401.07" font-size="9.2" text-anchor="end" stroke="#000" stroke-width="0.03">0.25</text>
<line x1="311.20" y1="365.35" x2="315.00" y2="365.35" stroke="#000" stroke-width="1.3" />
<text x="308.00" y="368.65" font-size="9.2" text-anchor="end" stroke="#000" stroke-width="0.03">0.50</text>
<line x1="311.20" y1="332.93" x2="315.00" y2="332.93" stroke="#000" stroke-width="1.3" />
<text x="308.00" y="336.23" font-size="9.2" text-anchor="end" stroke="#000" stroke-width="0.03">0.75</text>
<line x1="311.20" y1="300.50" x2="315.00" y2="300.50" stroke="#000" stroke-width="1.3" />
<text x="308.00" y="303.80" font-size="9.2" text-anchor="end" stroke="#000" stroke-width="0.03">1.00</text>
<line x1="324.50" y1="436.00" x2="324.50" y2="439.80" stroke="#000" stroke-width="1.3" />
<text x="324.50" y="448.75" font-size="9.2" text-anchor="middle" stroke="#000" stroke-width="0.03">0</text>
<line x1="354.83" y1="436.00" x2="354.83" y2="439.80" stroke="#000" stroke-width="1.3" />
<text x="354.83" y="448.75" font-size="9.2" text-anchor="middle" stroke="#000" stroke-width="0.03">3</text>
<line x1="385.16" y1="436.00" x2="385.16" y2="439.80" stroke="#000" stroke-width="1.3" />
<text x="385.16" y="448.75" font-size="9.2" text-anchor="middle" stroke="#000" stroke-width="0.03">6</text>
<line x1="415.49" y1="436.00" x2="415.49" y2="439.80" stroke="#000" stroke-width="1.3" />
<text x="415.49" y="448.75" font-size="9.2" text-anchor="middle" stroke="#000" stroke-width="0.03">9</text>
<line x1="445.82" y1="436.00" x2="445.82" y2="439.80" stroke="#000" stroke-width="1.3" />
<text x="445.82" y="448.75" font-size="9.2" text-anchor="middle" stroke="#000" stroke-width="0.03">12</text>
<line x1="476.15" y1="436.00" x2="476.15" y2="439.80" stroke="#000" stroke-width="1.3" />
<text x="476.15" y="448.75" font-size="9.2" text-anchor="middle" stroke="#000" stroke-width="0.03">15</text>
<line x1="506.48" y1="436.00" x2="506.48" y2="439.80" stroke="#000" stroke-width="1.3" />
<text x="506.48" y="448.75" font-size="9.2" text-anchor="middle" stroke="#000" stroke-width="0.03">18</text>
<text x="0.00" y="0.00" font-size="9.9" text-anchor="middle" stroke="#000" stroke-width="0.22" textLength="57.70" lengthAdjust="spacingAndGlyphs" transform="translate(283.6,365.35) rotate(-90)">Survival probability</text>
<text x="413.70" y="462.70" font-size="9.9" text-anchor="middle" stroke="#000" stroke-width="0.22" textLength="35.50" lengthAdjust="spacingAndGlyphs">PFS (years)</text>
<text x="374.60" y="330.90" font-size="8" stroke="#000" stroke-width="0.1" textLength="138.30" lengthAdjust="spacingAndGlyphs">HR, 1.56; 95% CI, 1.05–2.31; <tspan font-style="italic">P</tspan> = .0270</text>
<polyline points="325.00,300.00 328.50,309.20 332.30,326.50 334.20,331.30 336.00,332.20 337.53,332.20 337.53,332.96 339.19,332.96 339.19,333.79 340.00,333.79 340.00,334.20 341.79,334.20 341.79,335.00 344.15,335.00 344.15,336.06 346.83,336.06 346.83,337.26 348.70,337.26 348.70,338.10 349.90,338.10 349.90,338.65 351.50,338.65 351.50,339.38 353.41,339.38 353.41,340.25 355.30,340.25 355.30,341.12 356.61,341.12 356.61,341.72 359.20,341.72 359.20,342.90 359.86,342.90 359.86,343.09 362.86,343.09 362.86,343.93 365.70,343.93 365.70,344.73 366.92,344.73 366.92,345.07 370.06,345.07 370.06,345.96 372.70,345.96 372.70,346.70 372.98,346.70 372.98,346.74 375.25,346.74 375.25,347.03 378.15,347.03 378.15,347.41 380.39,347.41 380.39,347.70 382.11,347.70 382.11,347.92 383.55,347.92 383.55,348.11 385.00,348.11 385.00,348.30 385.29,348.30 385.29,348.40 386.58,348.40 386.58,348.85 388.55,348.85 388.55,349.53 391.47,349.53 391.47,350.55 394.27,350.55 394.27,351.53 396.50,351.53 396.50,352.30 397.42,352.30 397.42,352.62 400.25,352.62 400.25,353.61 402.06,353.61 402.06,354.24 404.54,354.24 404.54,355.10 406.74,355.10 406.74,355.86 408.00,355.86 408.00,356.30 409.75,356.30 409.75,357.01 412.16,357.01 412.16,357.98 413.97,357.98 413.97,358.72 416.64,358.72 416.64,359.80 419.60,359.80 419.60,361.00 420.06,361.00 420.06,361.18 421.76,361.18 421.76,361.86 424.99,361.86 424.99,363.14 426.22,363.14 426.22,363.63 428.02,363.63 428.02,364.34 429.76,364.34 429.76,365.03 431.20,365.03 431.20,365.60 432.68,365.60 432.68,366.27 436.05,366.27 436.05,367.81 438.96,367.81 438.96,369.14 440.92,369.14 440.92,370.04 444.14,370.04 444.14,371.51 445.00,371.51 445.00,371.90 446.10,371.90 446.10,372.30 447.85,372.30 447.85,372.94 451.13,372.94 451.13,374.13 453.79,374.13 453.79,375.10 456.58,375.10 456.58,376.12 457.90,376.12 457.90,376.60 459.31,376.60 459.31,377.04 462.76,377.04 462.76,378.10 465.04,378.10 465.04,378.81 466.30,378.81 466.30,379.20 468.17,379.20 468.17,379.22 470.98,379.22 470.98,379.26 474.15,379.26 474.15,379.29 476.35,379.29 476.35,379.32 479.22,379.32 479.22,379.35 481.73,379.35 481.73,379.38 483.64,379.38 483.64,379.40 485.33,379.40 485.33,379.42 487.96,379.42 487.96,379.46 489.34,379.46 489.34,379.47 492.63,379.47 492.63,379.51 494.17,379.51 494.17,379.53 495.43,379.53 495.43,379.54 496.87,379.54 496.87,379.56 500.21,379.56 500.21,379.60 502.20,379.60 502.20,379.62 503.73,379.62 503.73,379.64 505.00,379.64 505.00,379.66 506.29,379.66 506.29,379.67 508.70,379.67 508.70,379.70" fill="none" stroke="#33FF00" stroke-width="1.9" stroke-linejoin="miter"/>
<path d="M357.19 338.93V345.02M360.79 341.25V345.45M355.67 338.74V343.83M363.61 340.91V347.37M366.19 342.77V346.97M365.37 341.27V348.01M368.05 343.23V347.55M342.20 333.02V337.35M336.20 329.03V335.57M394.36 348.60V354.51M394.75 348.74V354.64M378.62 345.32V349.62M372.94 343.59V349.87M376.15 344.67V349.63M382.71 345.97V350.03M377.70 344.93V349.77M391.47 348.00V353.10M379.62 344.15V351.05M385.11 345.06V351.62M388.55 347.49V351.58M382.39 345.31V350.61M393.19 348.63V353.67M391.14 347.63V353.24M376.50 343.90V350.49M372.73 343.47V349.93M375.11 345.01V349.02M376.06 343.99V350.28M399.34 351.28V355.29M384.72 345.53V351.00M393.90 349.12V353.67M384.84 345.76V350.80M394.96 349.37V354.15M398.32 350.51V355.36M376.44 344.14V350.24M384.95 346.13V350.46M389.10 347.60V351.85M393.64 348.26V354.35M393.61 348.35V354.24M380.67 345.13V350.34M381.84 344.55V351.22M372.59 343.34V350.00M370.76 343.84V348.46M377.90 344.02V350.73M385.04 345.74V350.88M396.52 349.96V354.66M383.83 345.35V350.94M392.63 347.83V354.08M389.39 347.30V352.35M379.80 345.39V349.86M395.29 348.89V354.87M392.26 348.57V353.08M383.16 344.90V351.22M387.38 346.94V351.32M383.86 344.82V351.48M377.14 344.99V349.56M379.05 344.47V350.58M395.31 349.65V354.12M374.68 344.59V349.33M379.80 344.84V350.41M411.26 355.13V360.11M413.25 354.96V361.89M451.01 371.94V376.24M467.37 377.06V381.37M426.90 360.42V367.37M455.64 372.68V378.88M430.44 363.01V367.59M444.66 369.58V373.90M414.45 356.33V361.50M402.38 351.75V356.94M455.37 372.64V378.72M435.03 364.40V370.30M432.43 363.95V368.37M442.26 368.04V373.26M451.87 371.04V377.76M430.10 362.30V368.03M452.44 371.98V377.24M416.00 356.46V362.62M461.61 374.59V380.91M449.01 370.08V376.64M447.57 369.87V375.80M431.77 363.39V368.33M443.98 369.29V373.58M429.37 361.70V368.05M449.92 370.75V376.64M417.50 357.52V362.79M431.86 362.97V368.84M428.65 361.58V367.60M465.11 376.56V381.11M445.81 369.03V375.36M427.21 361.28V366.75M468.22 377.17V381.28M438.04 366.48V370.96M454.73 372.03V378.85M436.35 365.80V370.10M440.22 366.91V372.53M450.21 371.03V376.57M444.75 368.54V375.03M436.52 365.41V370.64M466.36 376.89V381.52M447.91 370.37V375.55M453.39 372.77V377.14M468.91 376.70V381.76M403.96 352.48V357.31M427.98 362.30V366.34M429.30 362.22V367.48M448.88 370.78V375.84M418.56 358.24V362.92M451.90 371.01V377.82M436.90 365.87V370.53M456.10 373.36V378.53M414.84 356.88V361.27M454.36 372.10V378.53M444.40 368.92V374.33M439.34 366.98V371.66M467.47 376.68V381.74M444.72 368.54V375.00M457.13 373.62V379.02M420.60 358.58V364.22M408.76 353.36V359.86M424.83 359.80V366.35M418.72 358.08V363.21M417.75 357.61V362.89M413.01 356.33V360.33M450.53 371.49V376.33M417.15 357.55V362.46M433.57 364.04V369.32M444.61 368.73V374.71M425.37 359.90V366.68M459.81 375.11V379.28M457.95 373.26V379.98M454.88 373.29V377.71M458.19 373.74V379.64M401.05 351.87V355.90M466.62 376.22V382.19M417.50 358.00V362.30M409.99 354.76V359.46M454.34 372.78V377.82M410.69 354.03V360.74M455.42 373.44V377.95M462.38 375.07V380.90M454.69 372.43V378.43M462.57 374.86V381.23M458.72 374.56V379.15M448.50 370.38V375.97M451.93 371.77V377.08M461.79 374.97V380.64M418.51 358.21V362.91M409.75 354.27V359.75M404.09 352.24V357.64M410.11 354.42V359.89M434.87 364.47V370.09M460.40 375.36V379.38M458.85 374.19V379.60M439.38 366.34V372.33M458.84 374.33V379.45M429.32 361.41V368.29M405.28 352.40V358.31M444.53 369.64V373.73M442.68 367.82V373.86M465.20 376.37V381.36M468.72 376.46V381.99M433.93 363.50V370.19M402.37 351.27V357.42M443.77 368.83V373.85M460.32 374.80V379.90M433.22 363.73V369.31M453.94 372.84V377.47M430.46 362.67V367.94M438.78 365.82V372.30M481.13 376.13V382.62M485.34 376.67V382.18M480.32 376.61V382.13M507.05 376.70V382.66M500.09 377.10V382.09M482.05 376.94V381.83M492.29 376.55V382.46M499.80 377.53V381.66M497.46 376.24V382.90M490.73 377.41V381.56M481.42 377.37V381.39M477.22 375.95V382.71M493.13 376.53V382.50M499.98 376.23V382.96M493.25 376.59V382.44M493.82 376.48V382.57M492.66 376.49V382.53M478.08 376.34V382.34M487.40 376.30V382.59M473.85 377.02V381.56M471.41 376.10V382.42M504.74 376.67V382.64M484.02 376.18V382.64M499.89 376.75V382.44M479.80 376.91V381.81M486.03 376.95V381.91M486.37 376.47V382.40M505.49 377.58V381.74M491.57 377.44V381.56M474.52 376.08V382.51M491.86 376.12V382.88M486.97 377.42V381.46M484.71 376.53V382.31M505.63 376.19V383.14M488.07 376.84V382.08" stroke="#33FF00" stroke-width="1.1" fill="none"/>
<polyline points="325.00,300.00 325.99,300.00 325.99,304.49 327.47,304.49 327.47,311.18 328.56,311.18 328.56,316.12 329.60,316.12 329.60,320.81 330.51,320.81 330.51,324.94 331.00,324.94 331.00,327.14 331.30,328.50 331.30,335.90 337.40,335.90 337.40,339.00 341.50,339.00 341.50,342.00 345.60,342.00 345.60,345.10 348.00,345.10 348.00,348.20 349.70,348.20 349.70,351.20 351.30,351.20 351.30,354.40 372.70,354.40 372.70,357.30 391.30,357.30 391.30,365.60 393.70,365.60 393.70,369.00 402.90,369.00 402.90,372.50 413.80,372.50 413.80,376.60 423.00,376.60 424.00,386.00 432.50,386.00 432.50,391.90 439.90,391.90 442.00,403.60 473.80,403.60 473.80,416.90 491.70,416.90" fill="none" stroke="#006600" stroke-width="1.9" stroke-linejoin="miter"/>
<path d="M377.20 354.05V360.55M373.95 357.30H380.45M384.40 354.05V360.55M381.15 357.30H387.65M390.80 354.05V360.55M387.55 357.30H394.05M402.90 365.75V372.25M399.65 369.00H406.15M419.80 373.35V379.85M416.55 376.60H423.05M424.00 382.75V389.25M420.75 386.00H427.25M442.00 400.35V406.85M438.75 403.60H445.25M454.70 400.35V406.85M451.45 403.60H457.95M459.00 400.35V406.85M455.75 403.60H462.25M489.60 413.65V420.15M486.35 416.90H492.85" stroke="#006600" stroke-width="1.0" fill="none"/>
<line x1="327.00" y1="405.50" x2="338.75" y2="405.50" stroke="#33FF00" stroke-width="1.9" />
<line x1="332.88" y1="402.60" x2="332.88" y2="408.40" stroke="#33FF00" stroke-width="1.2" />
<line x1="327.00" y1="420.50" x2="338.75" y2="420.50" stroke="#006600" stroke-width="1.9" />
<line x1="332.88" y1="417.60" x2="332.88" y2="423.40" stroke="#006600" stroke-width="1.2" />
<text x="341.75" y="408.75" font-size="7.9" stroke="#000" stroke-width="0.1" textLength="37.30" lengthAdjust="spacingAndGlyphs">Neg + Low</text>
<text x="341.75" y="423.00" font-size="7.9" stroke="#000" stroke-width="0.1" textLength="15.80" lengthAdjust="spacingAndGlyphs">High</text>
<text x="318.25" y="476.40" font-size="7.6" stroke="#000" stroke-width="0.1" textLength="48.75" lengthAdjust="spacingAndGlyphs">Number at risk</text>
<text x="308.75" y="485.70" font-size="8.0" text-anchor="end" fill="#33FF00" stroke="#33FF00" stroke-width="0.1">Neg + Low</text>
<text x="308.75" y="494.80" font-size="8.0" text-anchor="end" fill="#006600" stroke="#006600" stroke-width="0.1">High</text>
<text x="328.54" y="485.70" font-size="8.2" text-anchor="end" stroke="#000" stroke-width="0.1">288</text>
<text x="328.54" y="494.80" font-size="8.2" text-anchor="end" stroke="#000" stroke-width="0.1">43</text>
<text x="358.87" y="485.70" font-size="8.2" text-anchor="end" stroke="#000" stroke-width="0.1">196</text>
<text x="358.87" y="494.80" font-size="8.2" text-anchor="end" stroke="#000" stroke-width="0.1">25</text>
<text x="389.20" y="485.70" font-size="8.2" text-anchor="end" stroke="#000" stroke-width="0.1">160</text>
<text x="389.20" y="494.80" font-size="8.2" text-anchor="end" stroke="#000" stroke-width="0.1">20</text>
<text x="419.53" y="485.70" font-size="8.2" text-anchor="end" stroke="#000" stroke-width="0.1">105</text>
<text x="419.53" y="494.80" font-size="8.2" text-anchor="end" stroke="#000" stroke-width="0.1">13</text>
<text x="449.88" y="485.70" font-size="8.2" text-anchor="end" stroke="#000" stroke-width="0.1">50</text>
<text x="449.88" y="494.80" font-size="8.2" text-anchor="end" stroke="#000" stroke-width="0.1">4</text>
<text x="480.21" y="485.70" font-size="8.2" text-anchor="end" stroke="#000" stroke-width="0.1">15</text>
<text x="480.21" y="494.80" font-size="8.2" text-anchor="end" stroke="#000" stroke-width="0.1">1</text>
<text x="508.26" y="485.70" font-size="8.2" text-anchor="end" stroke="#000" stroke-width="0.1">0</text>
<text x="508.26" y="494.80" font-size="8.2" text-anchor="end" stroke="#000" stroke-width="0.1">0</text>
<line x1="52.20" y1="533.20" x2="52.20" y2="664.80" stroke="#000" stroke-width="1.8" />
<line x1="51.30" y1="663.90" x2="241.00" y2="663.90" stroke="#000" stroke-width="1.8" />
<line x1="48.40" y1="658.40" x2="52.20" y2="658.40" stroke="#000" stroke-width="1.3" />
<text x="45.20" y="661.70" font-size="9.2" text-anchor="end" stroke="#000" stroke-width="0.03">0.00</text>
<line x1="48.40" y1="628.75" x2="52.20" y2="628.75" stroke="#000" stroke-width="1.3" />
<text x="45.20" y="632.05" font-size="9.2" text-anchor="end" stroke="#000" stroke-width="0.03">0.25</text>
<line x1="48.40" y1="599.10" x2="52.20" y2="599.10" stroke="#000" stroke-width="1.3" />
<text x="45.20" y="602.40" font-size="9.2" text-anchor="end" stroke="#000" stroke-width="0.03">0.50</text>
<line x1="48.40" y1="569.45" x2="52.20" y2="569.45" stroke="#000" stroke-width="1.3" />
<text x="45.20" y="572.75" font-size="9.2" text-anchor="end" stroke="#000" stroke-width="0.03">0.75</text>
<line x1="48.40" y1="539.80" x2="52.20" y2="539.80" stroke="#000" stroke-width="1.3" />
<text x="45.20" y="543.10" font-size="9.2" text-anchor="end" stroke="#000" stroke-width="0.03">1.00</text>
<line x1="60.75" y1="663.90" x2="60.75" y2="667.70" stroke="#000" stroke-width="1.3" />
<text x="60.75" y="677.50" font-size="9.2" text-anchor="middle" stroke="#000" stroke-width="0.03">0</text>
<line x1="89.73" y1="663.90" x2="89.73" y2="667.70" stroke="#000" stroke-width="1.3" />
<text x="89.73" y="677.50" font-size="9.2" text-anchor="middle" stroke="#000" stroke-width="0.03">3</text>
<line x1="118.71" y1="663.90" x2="118.71" y2="667.70" stroke="#000" stroke-width="1.3" />
<text x="118.71" y="677.50" font-size="9.2" text-anchor="middle" stroke="#000" stroke-width="0.03">6</text>
<line x1="147.69" y1="663.90" x2="147.69" y2="667.70" stroke="#000" stroke-width="1.3" />
<text x="147.69" y="677.50" font-size="9.2" text-anchor="middle" stroke="#000" stroke-width="0.03">9</text>
<line x1="176.67" y1="663.90" x2="176.67" y2="667.70" stroke="#000" stroke-width="1.3" />
<text x="176.67" y="677.50" font-size="9.2" text-anchor="middle" stroke="#000" stroke-width="0.03">12</text>
<line x1="205.65" y1="663.90" x2="205.65" y2="667.70" stroke="#000" stroke-width="1.3" />
<text x="205.65" y="677.50" font-size="9.2" text-anchor="middle" stroke="#000" stroke-width="0.03">15</text>
<line x1="234.63" y1="663.90" x2="234.63" y2="667.70" stroke="#000" stroke-width="1.3" />
<text x="234.63" y="677.50" font-size="9.2" text-anchor="middle" stroke="#000" stroke-width="0.03">18</text>
<text x="0.00" y="0.00" font-size="9.9" text-anchor="middle" stroke="#000" stroke-width="0.22" textLength="57.70" lengthAdjust="spacingAndGlyphs" transform="translate(15.6,599.10) rotate(-90)">Survival probability</text>
<text x="146.50" y="692.70" font-size="9.9" text-anchor="middle" stroke="#000" stroke-width="0.22" textLength="35.70" lengthAdjust="spacingAndGlyphs">PFS (years)</text>
<text x="100.80" y="550.50" font-size="8" stroke="#000" stroke-width="0.1" textLength="139.10" lengthAdjust="spacingAndGlyphs">HR, 1.95; 95% CI, 1.17–3.27; <tspan font-style="italic">P</tspan> = .0110</text>
<polyline points="61.70,539.60 64.60,549.20 68.50,557.90 72.00,559.07 74.20,559.07 74.20,559.80 74.77,559.80 74.77,559.91 76.25,559.91 76.25,560.21 79.67,560.21 79.67,560.88 81.08,560.88 81.08,561.16 83.80,561.16 83.80,561.70 84.28,561.70 84.28,562.04 85.77,562.04 85.77,563.09 87.02,563.09 87.02,563.97 89.87,563.97 89.87,565.98 90.60,565.98 90.60,566.50 91.63,566.50 91.63,566.81 94.51,566.81 94.51,567.67 96.14,567.67 96.14,568.16 97.30,568.16 97.30,568.50 97.46,568.50 97.46,568.51 100.44,568.51 100.44,568.75 103.28,568.75 103.28,568.97 106.45,568.97 106.45,569.22 108.80,569.22 108.80,569.40 109.33,569.40 109.33,569.49 110.72,569.49 110.72,569.71 113.37,569.71 113.37,570.15 116.20,570.15 116.20,570.61 118.46,570.61 118.46,570.98 120.40,570.98 120.40,571.30 121.80,571.30 121.80,571.65 123.59,571.65 123.59,572.10 127.00,572.10 127.00,572.97 129.85,572.97 129.85,573.68 131.08,573.68 131.08,573.99 131.90,573.99 131.90,574.20 132.31,574.20 132.31,574.37 135.01,574.37 135.01,575.46 138.09,575.46 138.09,576.72 139.47,576.72 139.47,577.28 141.39,577.28 141.39,578.06 141.50,578.06 141.50,578.10 144.27,578.10 144.27,580.01 145.85,580.01 145.85,581.10 149.03,581.10 149.03,583.30 151.20,583.30 151.20,584.80 151.35,584.80 151.35,584.87 152.69,584.87 152.69,585.54 154.73,585.54 154.73,586.57 155.00,586.57 155.00,586.70 157.25,586.70 157.25,586.86 159.46,586.86 159.46,587.02 160.60,587.02 160.60,587.10 162.22,587.10 162.22,587.74 163.75,587.74 163.75,588.35 166.79,588.35 166.79,589.55 168.82,589.55 168.82,590.36 171.20,590.36 171.20,591.30 171.50,591.30 171.50,591.49 174.15,591.49 174.15,593.16 176.31,593.16 176.31,594.53 178.40,594.53 178.40,595.84 179.60,595.84 179.60,596.60 181.41,596.60 181.41,598.41 184.78,598.41 184.78,601.78 186.00,601.78 186.00,603.00 187.79,603.00 187.79,603.04 190.29,603.04 190.29,603.10 192.16,603.10 192.16,603.15 193.50,603.15 193.50,603.18 196.94,603.18 196.94,603.26 199.76,603.26 199.76,603.33 202.87,603.33 202.87,603.40 204.83,603.40 204.83,603.45 207.42,603.45 207.42,603.51 210.87,603.51 210.87,603.59 213.98,603.59 213.98,603.66 216.56,603.66 216.56,603.72 218.47,603.72 218.47,603.77 220.66,603.77 220.66,603.82 223.90,603.82 223.90,603.90 225.97,603.90 225.97,603.94 228.30,603.94 228.30,604.00" fill="none" stroke="#33FF00" stroke-width="1.9" stroke-linejoin="miter"/>
<path d="M95.20 564.75V570.99M102.61 566.56V571.27M108.05 567.01V571.67M119.41 568.40V573.87M130.03 570.62V576.84M109.14 566.41V572.50M129.92 570.62V576.78M123.44 569.72V574.41M130.98 570.96V576.98M126.49 569.69V575.98M117.37 568.70V572.91M122.95 568.95V574.94M113.41 567.22V573.09M133.16 572.42V577.00M124.39 569.46V575.15M120.56 569.08V573.60M114.88 567.46V573.33M129.37 570.99V576.14M110.37 566.65V572.67M128.85 571.14V575.72M123.65 569.00V575.24M131.90 571.55V576.85M120.87 568.68V574.15M113.11 567.87V572.35M112.88 567.19V572.94M117.80 568.17V573.58M118.87 568.40V573.70M112.02 567.87V571.98M134.92 572.96V577.90M110.87 566.95V572.53M175.15 591.60V595.99M165.46 586.59V591.46M161.49 585.43V589.48M136.71 572.92V579.39M179.17 593.72V598.94M163.93 586.09V590.74M174.74 591.00V596.07M183.27 597.31V603.23M176.76 591.60V598.01M147.95 580.51V584.61M145.25 578.46V582.92M139.27 575.13V579.26M163.43 585.13V591.31M158.37 583.76V590.12M181.41 596.33V600.49M165.50 586.55V591.54M141.12 574.74V581.14M148.12 579.96V585.38M167.67 586.71V593.10M169.16 588.00V592.98M157.87 584.71V589.10M184.25 598.01V604.49M146.31 579.37V583.47M148.05 580.18V585.06M181.04 594.91V601.17M177.70 593.34V597.46M175.11 590.88V596.65M167.98 586.79V593.26M137.84 574.43V578.80M173.50 589.58V595.93M169.52 588.26V593.01M165.16 585.96V591.86M140.38 575.24V580.05M148.11 580.51V584.82M159.55 584.81V589.24M147.16 579.83V584.19M169.56 588.63V592.67M171.58 589.29V593.78M136.84 573.05V579.37M146.25 578.21V584.55M179.20 593.24V599.46M142.13 575.97V581.09M139.95 574.31V580.63M177.95 592.78V598.35M158.07 584.49V589.34M176.98 592.35V597.54M167.04 587.47V591.83M146.30 579.35V583.49M171.40 588.73V594.12M142.38 575.62V581.80" stroke="#33FF00" stroke-width="1.1" fill="none"/>
<path d="M188.00 600.05V606.05M185.00 603.05H191.00M191.30 600.13V606.13M188.30 603.13H194.30M194.40 600.20V606.20M191.40 603.20H197.40M199.70 600.32V606.32M196.70 603.32H202.70M205.00 600.45V606.45M202.00 603.45H208.00M210.30 600.57V606.57M207.30 603.57H213.30M217.70 600.75V606.75M214.70 603.75H220.70M219.80 600.80V606.80M216.80 603.80H222.80M225.10 600.92V606.92M222.10 603.92H228.10M227.20 600.97V606.97M224.20 603.97H230.20" stroke="#33FF00" stroke-width="1.1" fill="none"/>
<line x1="242.20" y1="604.00" x2="248.20" y2="604.00" stroke="#33FF00" stroke-width="1.2" />
<line x1="245.20" y1="601.00" x2="245.20" y2="607.00" stroke="#33FF00" stroke-width="1.2" />
<polyline points="61.70,539.60 62.84,539.60 62.84,547.30 63.70,547.30 63.70,553.10 64.11,553.10 64.11,554.23 65.15,554.23 65.15,557.09 66.29,557.09 66.29,560.23 66.50,560.23 66.50,560.80 67.95,560.80 67.95,565.15 68.00,565.15 68.00,565.30 68.10,565.60 68.50,573.80 77.10,573.80 78.10,578.10 82.90,578.10 83.80,581.90 85.80,586.70 86.70,591.00 128.10,591.00 128.10,595.80 136.70,595.80 136.70,600.80 146.30,600.80 147.30,605.00 154.50,605.00 155.30,610.50 164.80,610.50 164.80,618.90 172.20,618.90 173.30,626.30 173.70,637.50 219.80,637.50" fill="none" stroke="#006600" stroke-width="1.9" stroke-linejoin="miter"/>
<path d="M111.70 587.75V594.25M108.45 591.00H114.95M118.50 587.75V594.25M115.25 591.00H121.75M136.70 592.55V599.05M133.45 595.80H139.95M152.10 601.75V608.25M148.85 605.00H155.35M157.40 607.25V613.75M154.15 610.50H160.65M174.30 634.25V640.75M171.05 637.50H177.55M189.10 634.25V640.75M185.85 637.50H192.35M219.80 634.25V640.75M216.55 637.50H223.05" stroke="#006600" stroke-width="1.0" fill="none"/>
<line x1="63.00" y1="635.50" x2="74.50" y2="635.50" stroke="#33FF00" stroke-width="1.9" />
<line x1="68.75" y1="632.60" x2="68.75" y2="638.40" stroke="#33FF00" stroke-width="1.2" />
<line x1="63.00" y1="648.75" x2="74.50" y2="648.75" stroke="#006600" stroke-width="1.9" />
<line x1="68.75" y1="645.85" x2="68.75" y2="651.65" stroke="#006600" stroke-width="1.2" />
<text x="78.75" y="638.30" font-size="7.9" stroke="#000" stroke-width="0.1" textLength="37.30" lengthAdjust="spacingAndGlyphs">Neg + Low</text>
<text x="78.75" y="651.50" font-size="7.9" stroke="#000" stroke-width="0.1" textLength="15.80" lengthAdjust="spacingAndGlyphs">High</text>
<text x="54.50" y="706.60" font-size="7.6" stroke="#000" stroke-width="0.1" textLength="48.00" lengthAdjust="spacingAndGlyphs">Number at risk</text>
<text x="46.75" y="715.90" font-size="8.0" text-anchor="end" fill="#33FF00" stroke="#33FF00" stroke-width="0.1">Neg + Low</text>
<text x="46.75" y="725.30" font-size="8.0" text-anchor="end" fill="#006600" stroke="#006600" stroke-width="0.1">High</text>
<text x="68.14" y="715.90" font-size="8.2" text-anchor="end" stroke="#000" stroke-width="0.1">144</text>
<text x="68.14" y="725.30" font-size="8.2" text-anchor="end" stroke="#000" stroke-width="0.1">28</text>
<text x="97.12" y="715.90" font-size="8.2" text-anchor="end" stroke="#000" stroke-width="0.1">112</text>
<text x="97.12" y="725.30" font-size="8.2" text-anchor="end" stroke="#000" stroke-width="0.1">16</text>
<text x="123.82" y="715.90" font-size="8.2" text-anchor="end" stroke="#000" stroke-width="0.1">90</text>
<text x="123.82" y="725.30" font-size="8.2" text-anchor="end" stroke="#000" stroke-width="0.1">14</text>
<text x="152.80" y="715.90" font-size="8.2" text-anchor="end" stroke="#000" stroke-width="0.1">57</text>
<text x="152.80" y="725.30" font-size="8.2" text-anchor="end" stroke="#000" stroke-width="0.1">10</text>
<text x="181.78" y="715.90" font-size="8.2" text-anchor="end" stroke="#000" stroke-width="0.1">27</text>
<text x="181.78" y="725.30" font-size="8.2" text-anchor="end" stroke="#000" stroke-width="0.1">2</text>
<text x="208.48" y="715.90" font-size="8.2" text-anchor="end" stroke="#000" stroke-width="0.1">5</text>
<text x="208.48" y="725.30" font-size="8.2" text-anchor="end" stroke="#000" stroke-width="0.1">1</text>
<text x="237.46" y="715.90" font-size="8.2" text-anchor="end" stroke="#000" stroke-width="0.1">0</text>
<text x="237.46" y="725.30" font-size="8.2" text-anchor="end" stroke="#000" stroke-width="0.1">0</text>
<line x1="315.00" y1="530.00" x2="315.00" y2="664.70" stroke="#000" stroke-width="1.8" />
<line x1="314.10" y1="663.80" x2="509.70" y2="663.80" stroke="#000" stroke-width="1.8" />
<line x1="311.20" y1="657.50" x2="315.00" y2="657.50" stroke="#000" stroke-width="1.3" />
<text x="308.00" y="660.80" font-size="9.2" text-anchor="end" stroke="#000" stroke-width="0.03">0.00</text>
<line x1="311.20" y1="627.00" x2="315.00" y2="627.00" stroke="#000" stroke-width="1.3" />
<text x="308.00" y="630.30" font-size="9.2" text-anchor="end" stroke="#000" stroke-width="0.03">0.25</text>
<line x1="311.20" y1="596.50" x2="315.00" y2="596.50" stroke="#000" stroke-width="1.3" />
<text x="308.00" y="599.80" font-size="9.2" text-anchor="end" stroke="#000" stroke-width="0.03">0.50</text>
<line x1="311.20" y1="566.00" x2="315.00" y2="566.00" stroke="#000" stroke-width="1.3" />
<text x="308.00" y="569.30" font-size="9.2" text-anchor="end" stroke="#000" stroke-width="0.03">0.75</text>
<line x1="311.20" y1="535.50" x2="315.00" y2="535.50" stroke="#000" stroke-width="1.3" />
<text x="308.00" y="538.80" font-size="9.2" text-anchor="end" stroke="#000" stroke-width="0.03">1.00</text>
<line x1="324.50" y1="663.80" x2="324.50" y2="667.60" stroke="#000" stroke-width="1.3" />
<text x="324.50" y="678.50" font-size="9.2" text-anchor="middle" stroke="#000" stroke-width="0.03">0</text>
<line x1="357.74" y1="663.80" x2="357.74" y2="667.60" stroke="#000" stroke-width="1.3" />
<text x="357.74" y="678.50" font-size="9.2" text-anchor="middle" stroke="#000" stroke-width="0.03">3</text>
<line x1="390.98" y1="663.80" x2="390.98" y2="667.60" stroke="#000" stroke-width="1.3" />
<text x="390.98" y="678.50" font-size="9.2" text-anchor="middle" stroke="#000" stroke-width="0.03">6</text>
<line x1="424.22" y1="663.80" x2="424.22" y2="667.60" stroke="#000" stroke-width="1.3" />
<text x="424.22" y="678.50" font-size="9.2" text-anchor="middle" stroke="#000" stroke-width="0.03">9</text>
<line x1="457.46" y1="663.80" x2="457.46" y2="667.60" stroke="#000" stroke-width="1.3" />
<text x="457.46" y="678.50" font-size="9.2" text-anchor="middle" stroke="#000" stroke-width="0.03">12</text>
<line x1="490.70" y1="663.80" x2="490.70" y2="667.60" stroke="#000" stroke-width="1.3" />
<text x="490.70" y="678.50" font-size="9.2" text-anchor="middle" stroke="#000" stroke-width="0.03">15</text>
<text x="0.00" y="0.00" font-size="9.9" text-anchor="middle" stroke="#000" stroke-width="0.22" textLength="57.70" lengthAdjust="spacingAndGlyphs" transform="translate(283.6,596.50) rotate(-90)">Survival probability</text>
<text x="412.70" y="692.70" font-size="9.9" text-anchor="middle" stroke="#000" stroke-width="0.22" textLength="36.00" lengthAdjust="spacingAndGlyphs">PFS (years)</text>
<text x="378.10" y="583.20" font-size="8" stroke="#000" stroke-width="0.1" textLength="129.50" lengthAdjust="spacingAndGlyphs">HR, 1.32; 95% CI, 0.65–2.66; <tspan font-style="italic">P</tspan> = .44</text>
<polyline points="325.00,535.80 326.50,543.50 328.50,545.40 330.40,556.90 332.30,572.30 336.20,585.80 340.00,589.60 341.00,589.74 345.67,589.74 345.67,590.40 351.63,590.40 351.63,591.24 353.50,591.24 353.50,591.50 356.91,591.50 356.91,592.53 363.10,592.53 363.10,594.40 364.52,594.40 364.52,594.83 368.98,594.83 368.98,596.18 372.70,596.18 372.70,597.30 376.89,597.30 376.89,598.13 381.12,598.13 381.12,598.97 382.30,598.97 382.30,599.20 388.70,599.20 388.70,600.27 391.90,600.27 391.90,600.80 395.37,600.80 395.37,601.27 400.22,601.27 400.22,601.93 401.50,601.93 401.50,602.10 404.00,602.10 404.00,603.03 405.00,603.40 423.00,603.40 423.00,607.70 431.40,607.70 432.50,610.20 436.70,611.30 438.80,613.40 444.10,615.50 445.20,619.70 469.50,619.70 469.50,623.30 480.10,623.30 480.10,627.10 506.50,627.10" fill="none" stroke="#33FF00" stroke-width="1.9" stroke-linejoin="miter"/>
<path d="M342.90 587.51V592.51M340.40 590.01H345.40M382.30 596.70V601.70M379.80 599.20H384.80M393.80 598.56V603.56M391.30 601.06H396.30M399.60 599.34V604.34M397.10 601.84H402.10M405.40 600.90V605.90M402.90 603.40H407.90M407.30 600.90V605.90M404.80 603.40H409.80M411.20 600.90V605.90M408.70 603.40H413.70M414.00 600.90V605.90M411.50 603.40H416.50M407.10 600.90V605.90M404.60 603.40H409.60M412.40 600.90V605.90M409.90 603.40H414.90M414.50 600.90V605.90M412.00 603.40H417.00M416.60 600.90V605.90M414.10 603.40H419.10M418.80 600.90V605.90M416.30 603.40H421.30M419.80 600.90V605.90M417.30 603.40H422.30M421.90 600.90V605.90M419.40 603.40H424.40M436.70 608.80V613.80M434.20 611.30H439.20M438.80 610.90V615.90M436.30 613.40H441.30M439.90 611.34V616.34M437.40 613.84H442.40M446.30 617.20V622.20M443.80 619.70H448.80M448.40 617.20V622.20M445.90 619.70H450.90M462.10 617.20V622.20M459.60 619.70H464.60M464.20 617.20V622.20M461.70 619.70H466.70M468.50 617.20V622.20M466.00 619.70H471.00M482.20 624.60V629.60M479.70 627.10H484.70M484.30 624.60V629.60M481.80 627.10H486.80M490.70 624.60V629.60M488.20 627.10H493.20M496.00 624.60V629.60M493.50 627.10H498.50M498.10 624.60V629.60M495.60 627.10H500.60M502.30 624.60V629.60M499.80 627.10H504.80M504.40 624.60V629.60M501.90 627.10H506.90" stroke="#33FF00" stroke-width="1.0" fill="none"/>
<polyline points="325.00,535.80 325.00,547.30 326.50,547.30 326.50,558.50 328.80,558.50 328.80,569.40 331.30,569.40 331.30,580.00 339.00,580.00 339.00,591.50 348.70,591.50 348.70,602.70 398.70,602.70 398.70,615.80 434.20,615.80 434.20,630.30 489.60,630.30 489.60,657.20" fill="none" stroke="#006600" stroke-width="1.9" stroke-linejoin="miter"/>
<path d="M382.70 599.45V605.95M379.45 602.70H385.95M467.40 627.05V633.55M464.15 630.30H470.65" stroke="#006600" stroke-width="1.0" fill="none"/>
<line x1="327.00" y1="634.25" x2="338.00" y2="634.25" stroke="#33FF00" stroke-width="1.9" />
<line x1="332.50" y1="631.35" x2="332.50" y2="637.15" stroke="#33FF00" stroke-width="1.2" />
<line x1="327.00" y1="648.00" x2="338.00" y2="648.00" stroke="#006600" stroke-width="1.9" />
<line x1="332.50" y1="645.10" x2="332.50" y2="650.90" stroke="#006600" stroke-width="1.2" />
<text x="341.25" y="636.75" font-size="7.9" stroke="#000" stroke-width="0.1" textLength="37.30" lengthAdjust="spacingAndGlyphs">Neg + Low</text>
<text x="341.25" y="650.50" font-size="7.9" stroke="#000" stroke-width="0.1" textLength="15.80" lengthAdjust="spacingAndGlyphs">High</text>
<text x="322.50" y="707.30" font-size="7.6" stroke="#000" stroke-width="0.1" textLength="48.25" lengthAdjust="spacingAndGlyphs">Number at risk</text>
<text x="312.50" y="716.60" font-size="8.0" text-anchor="end" fill="#33FF00" stroke="#33FF00" stroke-width="0.1">Neg + Low</text>
<text x="312.50" y="726.00" font-size="8.0" text-anchor="end" fill="#006600" stroke="#006600" stroke-width="0.1">High</text>
<text x="327.86" y="716.60" font-size="8.2" text-anchor="end" stroke="#000" stroke-width="0.1">87</text>
<text x="327.86" y="726.00" font-size="8.2" text-anchor="end" stroke="#000" stroke-width="0.1">11</text>
<text x="361.46" y="716.60" font-size="8.2" text-anchor="end" stroke="#000" stroke-width="0.1">46</text>
<text x="361.46" y="726.00" font-size="8.2" text-anchor="end" stroke="#000" stroke-width="0.1">5</text>
<text x="395.06" y="716.60" font-size="8.2" text-anchor="end" stroke="#000" stroke-width="0.1">40</text>
<text x="395.06" y="726.00" font-size="8.2" text-anchor="end" stroke="#000" stroke-width="0.1">4</text>
<text x="428.66" y="716.60" font-size="8.2" text-anchor="end" stroke="#000" stroke-width="0.1">24</text>
<text x="428.66" y="726.00" font-size="8.2" text-anchor="end" stroke="#000" stroke-width="0.1">3</text>
<text x="462.26" y="716.60" font-size="8.2" text-anchor="end" stroke="#000" stroke-width="0.1">12</text>
<text x="462.26" y="726.00" font-size="8.2" text-anchor="end" stroke="#000" stroke-width="0.1">2</text>
<text x="493.58" y="716.60" font-size="8.2" text-anchor="end" stroke="#000" stroke-width="0.1">4</text>
<text x="493.58" y="726.00" font-size="8.2" text-anchor="end" stroke="#000" stroke-width="0.1">0</text>
</svg>
</body></html>
